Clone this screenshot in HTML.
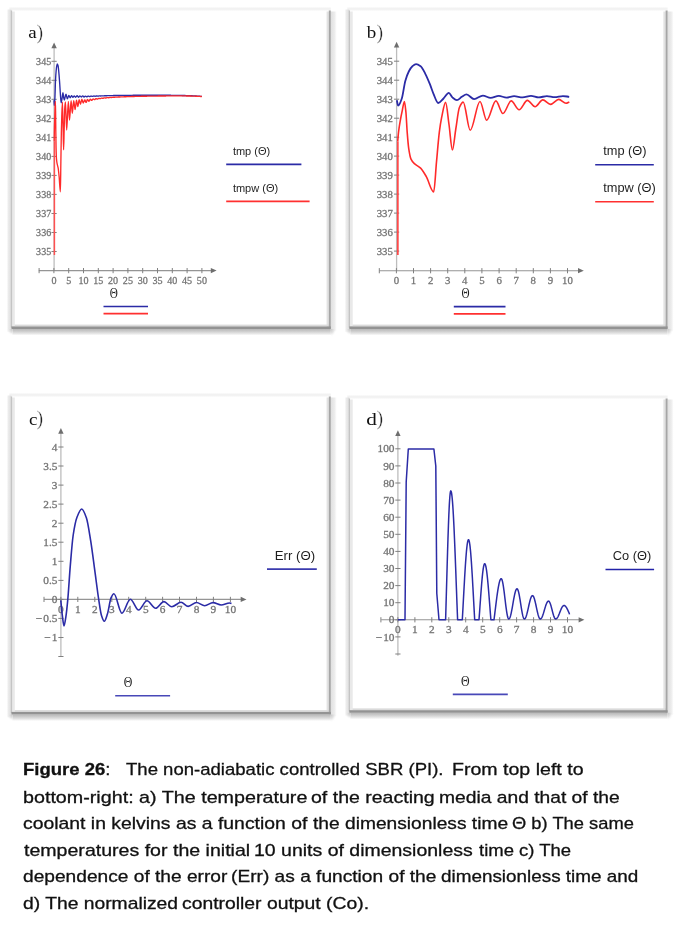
<!DOCTYPE html>
<html><head><meta charset="utf-8"><style>
html,body{margin:0;padding:0;background:#fff;width:680px;height:926px;overflow:hidden;}
svg{position:absolute;left:0;top:0;will-change:transform;}
.tl{font-family:"Liberation Serif",serif;font-size:10.5px;fill:#747474;stroke:#747474;stroke-width:0.28px;}
.pl{font-family:"Liberation Serif",serif;font-size:17px;fill:#111;}
.pp{font-size:20px;fill:#222;stroke:#fff;stroke-width:0.35px;}
.th{font-family:"Liberation Serif",serif;font-size:14px;fill:#222;}
.th2{font-family:"Liberation Sans",sans-serif;font-size:12px;fill:#222;}
.lg{font-family:"Liberation Sans",sans-serif;font-size:12px;fill:#1e1e1e;}
.cap{position:absolute;font-family:"Liberation Sans",sans-serif;font-size:17px;color:#111;white-space:pre;line-height:17px;height:17px;transform-origin:0 0;-webkit-text-stroke:0.3px #111;}
</style></head><body>
<svg width="680" height="926" viewBox="0 0 680 926">
<defs><filter id="bl1" x="-10%" y="-10%" width="120%" height="120%"><feGaussianBlur stdDeviation="0.7"/></filter><linearGradient id="oB" x1="0" x2="0" y1="0" y2="1"><stop offset="0" stop-color="#b8b8b8"/><stop offset="0.35" stop-color="#cdcdcd"/><stop offset="0.65" stop-color="#e2e2e2"/><stop offset="1" stop-color="#fff"/></linearGradient><linearGradient id="oR" x1="0" x2="1" y1="0" y2="0"><stop offset="0" stop-color="#e0e0e0"/><stop offset="0.6" stop-color="#ececec"/><stop offset="1" stop-color="#fff"/></linearGradient><linearGradient id="oL" x1="0" x2="1" y1="0" y2="0"><stop offset="0" stop-color="#fff"/><stop offset="0.3" stop-color="#ececec"/><stop offset="1" stop-color="#dedede"/></linearGradient><linearGradient id="oT" x1="0" x2="0" y1="0" y2="1"><stop offset="0" stop-color="#fff"/><stop offset="0.5" stop-color="#f2f2f2"/><stop offset="1" stop-color="#f4f4f4"/></linearGradient><radialGradient id="oCL" cx="1" cy="0" r="1"><stop offset="0" stop-color="#c4c4c4"/><stop offset="0.55" stop-color="#e6e6e6"/><stop offset="1" stop-color="#fff" stop-opacity="0"/></radialGradient><radialGradient id="oC" cx="0" cy="0" r="1"><stop offset="0" stop-color="#c8c8c8"/><stop offset="0.5" stop-color="#e4e4e4"/><stop offset="1" stop-color="#fff" stop-opacity="0"/></radialGradient></defs>
<g filter="url(#bl1)"><rect x="9.4" y="6.5" width="321.4" height="4" fill="url(#oT)"/><rect x="6.9" y="9.5" width="4.5" height="322.2" fill="url(#oL)"/><rect x="330.8" y="11.5" width="6" height="319.2" fill="url(#oR)"/><rect x="12.4" y="329.0" width="318.4" height="6.5" fill="url(#oB)"/><rect x="6.4" y="329.0" width="6" height="6.5" fill="url(#oCL)"/><rect x="330.8" y="329.0" width="6" height="8" fill="url(#oC)"/><rect x="326.6" y="11.5" width="2.2" height="316.2" fill="#e2e2e2"/><rect x="12.4" y="324.6" width="317.4" height="1.8" fill="#dadada"/><rect x="12.0" y="11.5" width="2.8" height="316.2" fill="#e9e9e9"/><rect x="10.8" y="10.5" width="1.3" height="317.2" fill="#c4c4c4"/><rect x="328.8" y="10.5" width="2" height="318.2" fill="#a6a6a6"/><rect x="11.4" y="326.4" width="319.4" height="2.6" fill="#939393"/></g>
<g filter="url(#bl1)"><rect x="347.3" y="6.5" width="320.3" height="4" fill="url(#oT)"/><rect x="344.8" y="9.5" width="4.5" height="322.2" fill="url(#oL)"/><rect x="667.6" y="11.5" width="6" height="319.2" fill="url(#oR)"/><rect x="350.3" y="329.0" width="317.3" height="6.5" fill="url(#oB)"/><rect x="344.3" y="329.0" width="6" height="6.5" fill="url(#oCL)"/><rect x="667.6" y="329.0" width="6" height="8" fill="url(#oC)"/><rect x="663.4" y="11.5" width="2.2" height="316.2" fill="#e2e2e2"/><rect x="350.3" y="324.6" width="316.3" height="1.8" fill="#dadada"/><rect x="349.9" y="11.5" width="2.8" height="316.2" fill="#e9e9e9"/><rect x="348.7" y="10.5" width="1.3" height="317.2" fill="#c4c4c4"/><rect x="665.6" y="10.5" width="2" height="318.2" fill="#a6a6a6"/><rect x="349.3" y="326.4" width="318.3" height="2.6" fill="#939393"/></g>
<g filter="url(#bl1)"><rect x="9.4" y="392.5" width="321.4" height="4" fill="url(#oT)"/><rect x="6.9" y="395.5" width="4.5" height="321.7" fill="url(#oL)"/><rect x="330.8" y="397.5" width="6" height="318.7" fill="url(#oR)"/><rect x="12.4" y="714.5" width="318.4" height="6.5" fill="url(#oB)"/><rect x="6.4" y="714.5" width="6" height="6.5" fill="url(#oCL)"/><rect x="330.8" y="714.5" width="6" height="8" fill="url(#oC)"/><rect x="326.6" y="397.5" width="2.2" height="315.7" fill="#e2e2e2"/><rect x="12.4" y="710.1" width="317.4" height="1.8" fill="#dadada"/><rect x="12.0" y="397.5" width="2.8" height="315.7" fill="#e9e9e9"/><rect x="10.8" y="396.5" width="1.3" height="316.7" fill="#c4c4c4"/><rect x="328.8" y="396.5" width="2" height="317.7" fill="#a6a6a6"/><rect x="11.4" y="711.9" width="319.4" height="2.6" fill="#939393"/></g>
<g filter="url(#bl1)"><rect x="347.3" y="394.5" width="320.3" height="4" fill="url(#oT)"/><rect x="344.8" y="397.5" width="4.5" height="318.0" fill="url(#oL)"/><rect x="667.6" y="399.5" width="6" height="315.0" fill="url(#oR)"/><rect x="350.3" y="712.8" width="317.3" height="6.5" fill="url(#oB)"/><rect x="344.3" y="712.8" width="6" height="6.5" fill="url(#oCL)"/><rect x="667.6" y="712.8" width="6" height="8" fill="url(#oC)"/><rect x="663.4" y="399.5" width="2.2" height="312.0" fill="#e2e2e2"/><rect x="350.3" y="708.4" width="316.3" height="1.8" fill="#dadada"/><rect x="349.9" y="399.5" width="2.8" height="312.0" fill="#e9e9e9"/><rect x="348.7" y="398.5" width="1.3" height="313.0" fill="#c4c4c4"/><rect x="665.6" y="398.5" width="2" height="314.0" fill="#a6a6a6"/><rect x="349.3" y="710.2" width="318.3" height="2.6" fill="#939393"/></g>
<line x1="54.1" y1="47.5" x2="54.1" y2="270.6" stroke="#bdbdbd" stroke-width="1.3"/>
<path d="M54.1,42.5 L51.4,48.3 L56.8,48.3 Z" fill="#6e6e6e"/>
<line x1="38.8" y1="270.6" x2="211.6" y2="270.6" stroke="#959595" stroke-width="1.1"/>
<path d="M216.6,270.6 L210.8,268.0 L210.8,273.2 Z" fill="#6e6e6e"/>
<line x1="39.1" y1="268.0" x2="39.1" y2="273.2" stroke="#808080" stroke-width="1"/>
<line x1="53.9" y1="268.0" x2="53.9" y2="273.2" stroke="#808080" stroke-width="1"/>
<line x1="68.7" y1="268.0" x2="68.7" y2="273.2" stroke="#808080" stroke-width="1"/>
<line x1="83.5" y1="268.0" x2="83.5" y2="273.2" stroke="#808080" stroke-width="1"/>
<line x1="98.3" y1="268.0" x2="98.3" y2="273.2" stroke="#808080" stroke-width="1"/>
<line x1="113.1" y1="268.0" x2="113.1" y2="273.2" stroke="#808080" stroke-width="1"/>
<line x1="127.9" y1="268.0" x2="127.9" y2="273.2" stroke="#808080" stroke-width="1"/>
<line x1="142.7" y1="268.0" x2="142.7" y2="273.2" stroke="#808080" stroke-width="1"/>
<line x1="157.5" y1="268.0" x2="157.5" y2="273.2" stroke="#808080" stroke-width="1"/>
<line x1="172.3" y1="268.0" x2="172.3" y2="273.2" stroke="#808080" stroke-width="1"/>
<line x1="187.1" y1="268.0" x2="187.1" y2="273.2" stroke="#808080" stroke-width="1"/>
<line x1="201.9" y1="268.0" x2="201.9" y2="273.2" stroke="#808080" stroke-width="1"/>
<line x1="51.5" y1="61.3" x2="56.7" y2="61.3" stroke="#808080" stroke-width="1"/>
<line x1="51.5" y1="80.3" x2="56.7" y2="80.3" stroke="#808080" stroke-width="1"/>
<line x1="51.5" y1="99.3" x2="56.7" y2="99.3" stroke="#808080" stroke-width="1"/>
<line x1="51.5" y1="118.4" x2="56.7" y2="118.4" stroke="#808080" stroke-width="1"/>
<line x1="51.5" y1="137.4" x2="56.7" y2="137.4" stroke="#808080" stroke-width="1"/>
<line x1="51.5" y1="156.4" x2="56.7" y2="156.4" stroke="#808080" stroke-width="1"/>
<line x1="51.5" y1="175.4" x2="56.7" y2="175.4" stroke="#808080" stroke-width="1"/>
<line x1="51.5" y1="194.4" x2="56.7" y2="194.4" stroke="#808080" stroke-width="1"/>
<line x1="51.5" y1="213.5" x2="56.7" y2="213.5" stroke="#808080" stroke-width="1"/>
<line x1="51.5" y1="232.5" x2="56.7" y2="232.5" stroke="#808080" stroke-width="1"/>
<line x1="51.5" y1="251.5" x2="56.7" y2="251.5" stroke="#808080" stroke-width="1"/>
<text transform="translate(51.2,64.9) scale(0.960,1)" class="tl" text-anchor="end">345</text>
<text transform="translate(51.2,83.9) scale(0.960,1)" class="tl" text-anchor="end">344</text>
<text transform="translate(51.2,102.9) scale(0.960,1)" class="tl" text-anchor="end">343</text>
<text transform="translate(51.2,122.0) scale(0.960,1)" class="tl" text-anchor="end">342</text>
<text transform="translate(51.2,141.0) scale(0.960,1)" class="tl" text-anchor="end">341</text>
<text transform="translate(51.2,160.0) scale(0.960,1)" class="tl" text-anchor="end">340</text>
<text transform="translate(51.2,179.0) scale(0.960,1)" class="tl" text-anchor="end">339</text>
<text transform="translate(51.2,198.0) scale(0.960,1)" class="tl" text-anchor="end">338</text>
<text transform="translate(51.2,217.1) scale(0.960,1)" class="tl" text-anchor="end">337</text>
<text transform="translate(51.2,236.1) scale(0.960,1)" class="tl" text-anchor="end">336</text>
<text transform="translate(51.2,255.1) scale(0.960,1)" class="tl" text-anchor="end">335</text>
<text transform="translate(53.9,284.0) scale(0.960,1)" class="tl" text-anchor="middle">0</text>
<text transform="translate(68.7,284.0) scale(0.960,1)" class="tl" text-anchor="middle">5</text>
<text transform="translate(83.5,284.0) scale(0.960,1)" class="tl" text-anchor="middle">10</text>
<text transform="translate(98.3,284.0) scale(0.960,1)" class="tl" text-anchor="middle">15</text>
<text transform="translate(113.1,284.0) scale(0.960,1)" class="tl" text-anchor="middle">20</text>
<text transform="translate(127.9,284.0) scale(0.960,1)" class="tl" text-anchor="middle">25</text>
<text transform="translate(142.7,284.0) scale(0.960,1)" class="tl" text-anchor="middle">30</text>
<text transform="translate(157.5,284.0) scale(0.960,1)" class="tl" text-anchor="middle">35</text>
<text transform="translate(172.3,284.0) scale(0.960,1)" class="tl" text-anchor="middle">40</text>
<text transform="translate(187.1,284.0) scale(0.960,1)" class="tl" text-anchor="middle">45</text>
<text transform="translate(201.9,284.0) scale(0.960,1)" class="tl" text-anchor="middle">50</text>
<text transform="translate(28.3,38) scale(1.12,1)" class="pl">a</text><text x="36.4" y="38.8" class="pl pp">)</text>
<path d="M54.03,100.10 C54.11,101.87 54.20,105.40 54.28,105.40 C54.48,105.40 54.69,101.71 54.89,98.30 C55.10,94.99 55.30,84.78 55.50,80.70 C55.70,76.62 55.90,73.52 56.10,71.30 C56.31,69.01 56.51,66.95 56.72,66.00 C56.93,65.02 57.14,64.00 57.36,64.00 C57.61,64.00 57.87,64.96 58.13,66.00 C58.40,67.09 58.67,70.65 58.94,73.60 C59.21,76.55 59.48,80.34 59.75,84.20 C59.95,87.07 60.15,90.94 60.35,93.60 C60.62,97.18 60.89,102.80 61.16,102.80 C61.46,102.80 61.77,99.96 62.07,98.30 C62.38,96.64 62.68,92.70 62.98,92.70 C63.19,92.70 63.40,96.19 63.60,97.20 C63.86,98.46 64.12,100.00 64.38,100.00 C64.66,100.00 64.94,97.56 65.22,96.60 C65.49,95.68 65.76,94.20 66.03,94.20 C66.47,94.20 66.90,98.90 67.34,98.90 C67.84,98.90 68.35,95.40 68.85,95.40 C69.29,95.40 69.74,97.70 70.18,97.70 C70.65,97.70 71.12,95.70 71.59,95.70 C72.03,95.70 72.47,97.40 72.91,97.40 C73.35,97.40 73.78,96.00 74.22,96.00 C74.71,96.00 75.20,97.20 75.68,97.20 C76.17,97.20 76.65,95.60 77.13,95.60 C77.57,95.60 78.01,97.20 78.45,97.20 C78.92,97.20 79.40,95.90 79.87,95.90 C80.31,95.90 80.75,97.00 81.19,97.00 C81.67,97.00 82.14,95.90 82.62,95.90 C82.98,95.90 83.34,96.25 83.70,96.60 C83.81,96.70 83.91,97.06 84.01,97.06 C84.11,97.06 84.21,97.00 84.31,96.95 C84.41,96.89 84.51,96.78 84.61,96.69 C84.71,96.59 84.80,96.47 84.90,96.39 C85.00,96.31 85.10,96.21 85.20,96.19 C85.30,96.16 85.40,96.14 85.49,96.14 C85.59,96.14 85.69,96.20 85.79,96.25 C85.89,96.30 85.99,96.39 86.09,96.46 C86.19,96.53 86.28,96.62 86.38,96.67 C86.48,96.72 86.58,96.79 86.68,96.79 C86.78,96.79 86.88,96.79 86.97,96.78 C87.07,96.77 87.17,96.69 87.27,96.63 C87.37,96.58 87.47,96.49 87.57,96.42 C87.67,96.36 87.76,96.28 87.86,96.23 C87.96,96.19 88.06,96.14 88.16,96.14 C88.26,96.14 88.36,96.14 88.45,96.16 C88.55,96.17 88.65,96.23 88.75,96.27 C88.85,96.32 88.95,96.38 89.05,96.43 C89.15,96.47 89.24,96.53 89.34,96.55 C89.44,96.57 89.54,96.58 89.64,96.58 C89.74,96.58 89.84,96.55 89.93,96.52 C90.03,96.49 90.13,96.43 90.23,96.38 C90.33,96.34 90.43,96.28 90.53,96.23 C90.63,96.19 90.72,96.14 90.82,96.12 C90.92,96.11 91.02,96.09 91.12,96.09 C91.22,96.09 91.32,96.12 91.41,96.14 C91.51,96.16 91.61,96.21 91.71,96.24 C91.81,96.27 91.91,96.32 92.01,96.34 C92.11,96.36 92.20,96.39 92.30,96.39 C92.40,96.39 92.50,96.39 92.60,96.38 C92.70,96.37 92.80,96.33 92.89,96.30 C92.99,96.27 93.09,96.23 93.19,96.19 C93.29,96.16 93.39,96.12 93.49,96.09 C93.59,96.07 93.68,96.04 93.78,96.04 C93.88,96.04 93.98,96.04 94.08,96.04 C94.18,96.05 94.28,96.08 94.37,96.10 C94.47,96.12 94.57,96.15 94.67,96.17 C94.77,96.19 94.87,96.21 94.97,96.22 C95.07,96.23 95.16,96.23 95.26,96.23 C95.36,96.23 95.46,96.21 95.56,96.20 C95.66,96.18 95.76,96.15 95.85,96.12 C95.95,96.10 96.05,96.07 96.15,96.04 C96.25,96.02 96.35,95.99 96.45,95.98 C96.55,95.97 96.64,95.96 96.74,95.96 C96.84,95.96 96.94,95.97 97.04,95.98 C97.14,95.99 97.24,96.01 97.33,96.03 C97.43,96.04 97.53,96.06 97.63,96.07 C97.73,96.08 97.83,96.09 97.93,96.09 C98.03,96.09 98.12,96.09 98.22,96.08 C98.32,96.08 98.42,96.06 98.52,96.04 C98.62,96.02 98.72,96.00 98.81,95.98 C98.91,95.96 99.01,95.94 99.11,95.93 C99.21,95.91 99.31,95.90 99.41,95.90 C99.51,95.90 99.60,95.89 99.70,95.89 C99.80,95.89 99.90,95.91 100.00,95.92 C100.10,95.92 100.20,95.94 100.29,95.95 C100.39,95.95 100.49,95.97 100.59,95.97 C100.69,95.97 100.79,95.97 100.89,95.97 C100.99,95.97 101.08,95.96 101.18,95.95 C101.28,95.94 101.38,95.92 101.48,95.91 C101.58,95.89 101.68,95.87 101.77,95.86 C101.87,95.85 101.97,95.83 102.07,95.83 C102.17,95.82 102.27,95.81 102.37,95.81 C102.47,95.81 102.56,95.81 102.66,95.82 C102.76,95.82 102.86,95.83 102.96,95.83 C103.06,95.84 103.16,95.85 103.25,95.85 C103.35,95.85 103.45,95.86 103.55,95.86 C103.65,95.86 103.75,95.85 103.85,95.84 C103.95,95.84 104.04,95.83 104.14,95.82 C104.24,95.81 104.34,95.80 104.44,95.78 C104.54,95.77 104.64,95.76 104.73,95.75 C104.83,95.74 104.93,95.74 105.03,95.73 C105.13,95.73 105.23,95.73 105.33,95.73 C105.43,95.73 105.52,95.73 105.62,95.73 C105.72,95.73 105.82,95.74 105.92,95.74 C106.02,95.75 106.12,95.75 106.21,95.75 C106.31,95.75 106.41,95.75 106.51,95.75 C106.61,95.74 106.71,95.74 106.81,95.73 C106.91,95.72 107.00,95.71 107.10,95.71 C107.20,95.70 107.30,95.69 107.40,95.68 C107.50,95.67 107.60,95.66 107.69,95.66 C107.79,95.65 107.89,95.65 107.99,95.65 C108.09,95.65 108.19,95.65 108.29,95.65 C108.39,95.65 108.48,95.65 108.58,95.65 C108.68,95.65 108.78,95.66 108.88,95.66 C108.98,95.66 109.08,95.66 109.17,95.66 C109.27,95.66 109.37,95.65 109.47,95.65 C109.57,95.65 109.67,95.64 109.77,95.63 C109.87,95.63 109.96,95.62 110.06,95.61 C110.16,95.61 110.26,95.60 110.36,95.60 C110.46,95.59 110.56,95.59 110.65,95.58 C110.75,95.58 110.85,95.58 110.95,95.58 C111.05,95.58 111.15,95.58 111.25,95.58 C111.35,95.58 111.44,95.58 111.54,95.58 C111.64,95.59 111.74,95.59 111.84,95.59 C111.94,95.59 112.04,95.58 112.13,95.58 C112.23,95.58 112.33,95.58 112.43,95.57 C112.53,95.57 112.63,95.57 112.73,95.56 C112.83,95.56 112.92,95.55 113.02,95.55 C113.12,95.54 113.22,95.54 113.32,95.54 C113.42,95.54 113.52,95.53 113.61,95.53 C113.71,95.53 113.81,95.53 113.91,95.53 C114.01,95.53 114.11,95.53 114.21,95.53 C114.31,95.53 114.40,95.53 114.50,95.53 C114.60,95.53 114.70,95.53 114.80,95.53 C114.90,95.53 115.00,95.53 115.09,95.53 C115.19,95.53 115.29,95.52 115.39,95.52 C115.49,95.52 115.59,95.51 115.69,95.51 C115.79,95.51 115.88,95.50 115.98,95.50 C116.08,95.50 116.18,95.49 116.28,95.49 C116.38,95.49 116.48,95.49 116.57,95.49 C116.67,95.49 116.77,95.49 116.87,95.49 C116.97,95.49 117.07,95.49 117.17,95.49 C117.27,95.49 117.36,95.49 117.46,95.49 C117.56,95.49 117.66,95.49 117.76,95.49 C117.86,95.48 117.96,95.48 118.05,95.48 C118.15,95.48 118.25,95.47 118.35,95.47 C118.45,95.47 118.55,95.47 118.65,95.46 C118.75,95.46 118.84,95.46 118.94,95.46 C119.04,95.45 119.14,95.45 119.24,95.45 C119.34,95.45 119.44,95.45 119.53,95.45 C119.63,95.45 119.73,95.45 119.83,95.45 C119.93,95.45 120.03,95.45 120.13,95.45 C120.23,95.45 120.32,95.44 120.42,95.44 C120.52,95.44 120.62,95.44 120.72,95.44 C120.82,95.44 120.92,95.44 121.01,95.43 C121.11,95.43 121.21,95.43 121.31,95.43 C121.41,95.42 121.51,95.42 121.61,95.42 C121.71,95.42 121.80,95.42 121.90,95.41 C122.00,95.41 122.10,95.41 122.20,95.41 C122.30,95.41 122.40,95.41 122.49,95.41 C122.59,95.41 122.69,95.41 122.79,95.41 C122.89,95.41 122.99,95.40 123.09,95.40 C123.19,95.40 123.28,95.40 123.38,95.40 C123.48,95.40 123.58,95.40 123.68,95.40 C123.78,95.39 123.88,95.39 123.97,95.39 C124.07,95.39 124.17,95.39 124.27,95.38 C124.37,95.38 124.47,95.38 124.57,95.38 C124.67,95.38 124.76,95.38 124.86,95.38 C124.96,95.37 125.06,95.37 125.16,95.37 C125.26,95.37 125.36,95.37 125.45,95.37 C125.55,95.37 125.65,95.37 125.75,95.37 C125.85,95.37 125.95,95.37 126.05,95.37 C126.15,95.36 126.24,95.36 126.34,95.36 C126.44,95.36 126.54,95.36 126.64,95.36 C126.74,95.36 126.84,95.35 126.93,95.35 C127.03,95.35 127.13,95.35 127.23,95.35 C127.33,95.35 127.43,95.34 127.53,95.34 C127.63,95.34 127.72,95.34 127.82,95.34 C127.92,95.34 128.02,95.34 128.12,95.34 C128.22,95.34 128.32,95.34 128.41,95.34 C128.51,95.34 128.61,95.33 128.71,95.33 C128.81,95.33 128.91,95.33 129.01,95.33 C129.11,95.33 129.20,95.33 129.30,95.33 C129.40,95.33 129.50,95.33 129.60,95.32 C129.70,95.32 129.80,95.32 129.89,95.32 C129.99,95.32 130.09,95.32 130.19,95.32 C130.29,95.31 130.39,95.31 130.49,95.31 C130.59,95.31 130.68,95.31 130.78,95.31 C130.88,95.31 130.98,95.31 131.08,95.31 C131.18,95.31 131.28,95.31 131.37,95.31 C131.47,95.31 131.57,95.31 131.67,95.30 C131.77,95.30 131.87,95.30 131.97,95.30 C132.07,95.30 132.16,95.30 132.26,95.30 C132.36,95.30 132.46,95.30 132.56,95.30 C132.66,95.29 132.76,95.29 132.85,95.29 C132.95,95.29 133.05,95.29 133.15,95.29 C133.25,95.29 133.35,95.29 133.45,95.29 C133.55,95.29 133.64,95.29 133.74,95.29 C133.84,95.29 133.94,95.28 134.04,95.28 C134.14,95.28 134.24,95.28 134.33,95.28 C134.43,95.28 134.53,95.28 134.63,95.28 C134.73,95.28 134.83,95.28 134.93,95.28 C135.03,95.28 135.12,95.28 135.22,95.28 C135.32,95.28 135.42,95.27 135.52,95.27 C135.62,95.27 135.72,95.27 135.81,95.27 C135.91,95.27 136.01,95.27 136.11,95.27 C136.21,95.27 136.31,95.27 136.41,95.27 C136.51,95.27 136.60,95.27 136.70,95.27 C136.80,95.27 136.90,95.27 137.00,95.27 C137.10,95.27 137.20,95.26 137.29,95.26 C137.39,95.26 137.49,95.26 137.59,95.26 C137.69,95.26 137.79,95.26 137.89,95.26 C137.99,95.26 138.08,95.26 138.18,95.26 C138.28,95.26 138.38,95.26 138.48,95.26 C138.58,95.26 138.68,95.26 138.77,95.26 C138.87,95.26 138.97,95.26 139.07,95.26 C139.17,95.26 139.27,95.26 139.37,95.26 C139.47,95.26 139.56,95.25 139.66,95.25 C139.76,95.25 139.86,95.25 139.96,95.25 C140.06,95.25 140.16,95.25 140.25,95.25 C140.35,95.25 140.45,95.25 140.55,95.25 C140.65,95.25 140.75,95.25 140.85,95.25 C140.95,95.25 141.04,95.25 141.14,95.25 C141.24,95.25 141.34,95.25 141.44,95.25 C141.54,95.25 141.64,95.25 141.73,95.25 C141.83,95.25 141.93,95.25 142.03,95.25 C142.13,95.25 142.23,95.25 142.33,95.25 C142.43,95.25 142.52,95.25 142.62,95.25 C142.72,95.25 142.82,95.25 142.92,95.25 C143.02,95.25 143.12,95.25 143.21,95.25 C143.31,95.25 143.41,95.25 143.51,95.25 C143.61,95.25 143.71,95.25 143.81,95.25 C143.91,95.25 144.00,95.25 144.10,95.25 C144.20,95.25 144.30,95.25 144.40,95.25 C144.50,95.25 144.60,95.25 144.69,95.25 C144.79,95.25 144.89,95.25 144.99,95.25 C145.09,95.25 145.19,95.25 145.29,95.25 C145.39,95.25 145.48,95.25 145.58,95.25 C145.68,95.25 145.78,95.25 145.88,95.25 C145.98,95.25 146.08,95.25 146.17,95.25 C146.27,95.25 146.37,95.25 146.47,95.25 C146.57,95.25 146.67,95.25 146.77,95.25 C146.87,95.25 146.96,95.25 147.06,95.25 C147.16,95.25 147.26,95.25 147.36,95.25 C147.46,95.25 147.56,95.25 147.65,95.25 C147.75,95.25 147.85,95.25 147.95,95.25 C148.05,95.25 148.15,95.25 148.25,95.25 C148.35,95.25 148.44,95.25 148.54,95.25 C148.64,95.25 148.74,95.25 148.84,95.25 C148.94,95.25 149.04,95.25 149.13,95.25 C149.23,95.25 149.33,95.25 149.43,95.25 C149.53,95.25 149.63,95.25 149.73,95.25 C149.83,95.25 149.92,95.25 150.02,95.25 C150.12,95.25 150.22,95.25 150.32,95.25 C150.42,95.25 150.52,95.25 150.61,95.25 C150.71,95.25 150.81,95.25 150.91,95.25 C151.01,95.25 151.11,95.25 151.21,95.25 C151.31,95.25 151.40,95.25 151.50,95.25 C151.60,95.25 151.70,95.25 151.80,95.25 C151.90,95.25 152.00,95.25 152.09,95.25 C152.19,95.26 152.29,95.26 152.39,95.26 C152.49,95.26 152.59,95.26 152.69,95.26 C152.79,95.26 152.88,95.26 152.98,95.26 C153.08,95.26 153.18,95.26 153.28,95.26 C153.38,95.26 153.48,95.26 153.57,95.26 C153.67,95.26 153.77,95.26 153.87,95.26 C153.97,95.26 154.07,95.26 154.17,95.26 C154.27,95.26 154.36,95.26 154.46,95.26 C154.56,95.26 154.66,95.26 154.76,95.26 C154.86,95.26 154.96,95.26 155.05,95.26 C155.15,95.26 155.25,95.26 155.35,95.26 C155.45,95.26 155.55,95.26 155.65,95.26 C155.75,95.26 155.84,95.26 155.94,95.26 C156.04,95.26 156.14,95.26 156.24,95.26 C156.34,95.26 156.44,95.26 156.53,95.26 C156.63,95.26 156.73,95.26 156.83,95.26 C156.93,95.26 157.03,95.26 157.13,95.26 C157.23,95.26 157.32,95.26 157.42,95.26 C157.52,95.26 157.62,95.26 157.72,95.26 C157.82,95.26 157.92,95.26 158.01,95.26 C158.11,95.26 158.21,95.26 158.31,95.26 C158.41,95.26 158.51,95.26 158.61,95.26 C158.71,95.26 158.80,95.26 158.90,95.26 C159.00,95.26 159.10,95.27 159.20,95.27 C159.30,95.27 159.40,95.27 159.49,95.27 C159.59,95.27 159.69,95.27 159.79,95.27 C159.89,95.27 159.99,95.27 160.09,95.27 C160.19,95.27 160.28,95.27 160.38,95.27 C160.48,95.27 160.58,95.27 160.68,95.27 C160.78,95.27 160.88,95.27 160.97,95.27 C161.07,95.27 161.17,95.27 161.27,95.27 C161.37,95.27 161.47,95.27 161.57,95.27 C161.67,95.27 161.76,95.27 161.86,95.27 C161.96,95.27 162.06,95.27 162.16,95.27 C162.26,95.27 162.36,95.27 162.45,95.27 C162.55,95.27 162.65,95.27 162.75,95.27 C162.85,95.27 162.95,95.27 163.05,95.27 C163.15,95.27 163.24,95.27 163.34,95.27 C163.44,95.27 163.54,95.27 163.64,95.27 C163.74,95.27 163.84,95.28 163.93,95.28 C164.03,95.28 164.13,95.28 164.23,95.28 C164.33,95.28 164.43,95.28 164.53,95.28 C164.63,95.28 164.72,95.28 164.82,95.28 C164.92,95.28 165.02,95.28 165.12,95.28 C165.22,95.28 165.32,95.28 165.41,95.28 C165.51,95.28 165.61,95.28 165.71,95.28 C165.81,95.28 165.91,95.28 166.01,95.28 C166.11,95.28 166.20,95.28 166.30,95.28 C166.40,95.28 166.50,95.28 166.60,95.28 C166.70,95.28 166.80,95.28 166.89,95.28 C166.99,95.28 167.09,95.28 167.19,95.28 C167.29,95.28 167.39,95.28 167.49,95.28 C167.59,95.29 167.68,95.29 167.78,95.29 C167.88,95.29 167.98,95.29 168.08,95.29 C168.18,95.29 168.28,95.29 168.37,95.29 C168.47,95.29 168.57,95.29 168.67,95.29 C168.77,95.29 168.87,95.29 168.97,95.29 C169.07,95.29 169.16,95.29 169.26,95.29 C169.36,95.29 169.46,95.29 169.56,95.29 C169.66,95.29 169.76,95.29 169.85,95.29 C169.95,95.29 170.05,95.29 170.15,95.29 C170.25,95.29 170.35,95.29 170.45,95.29 C170.55,95.29 170.64,95.29 170.74,95.29 C170.84,95.29 170.94,95.30 171.04,95.30 C171.14,95.30 171.24,95.30 171.33,95.30 C171.43,95.30 171.53,95.30 171.63,95.30 C171.73,95.30 171.83,95.30 171.93,95.30 C172.03,95.30 172.12,95.30 172.22,95.30 C172.32,95.30 172.42,95.30 172.52,95.30 C172.62,95.30 172.72,95.30 172.81,95.30 C172.91,95.30 173.01,95.30 173.11,95.30 C173.21,95.30 173.31,95.30 173.41,95.30 C173.51,95.31 173.60,95.31 173.70,95.31 C173.80,95.31 173.90,95.31 174.00,95.31 C174.10,95.31 174.20,95.31 174.29,95.31 C174.39,95.31 174.49,95.31 174.59,95.31 C174.69,95.32 174.79,95.32 174.89,95.32 C174.99,95.32 175.08,95.32 175.18,95.32 C175.28,95.32 175.38,95.32 175.48,95.32 C175.58,95.33 175.68,95.33 175.77,95.33 C175.87,95.33 175.97,95.33 176.07,95.33 C176.17,95.33 176.27,95.33 176.37,95.34 C176.47,95.34 176.56,95.34 176.66,95.34 C176.76,95.34 176.86,95.34 176.96,95.34 C177.06,95.35 177.16,95.35 177.25,95.35 C177.35,95.35 177.45,95.35 177.55,95.35 C177.65,95.36 177.75,95.36 177.85,95.36 C177.95,95.36 178.04,95.36 178.14,95.37 C178.24,95.37 178.34,95.37 178.44,95.37 C178.54,95.37 178.64,95.37 178.73,95.38 C178.83,95.38 178.93,95.38 179.03,95.38 C179.13,95.38 179.23,95.39 179.33,95.39 C179.43,95.39 179.52,95.39 179.62,95.39 C179.72,95.40 179.82,95.40 179.92,95.40 C180.02,95.40 180.12,95.41 180.21,95.41 C180.31,95.41 180.41,95.41 180.51,95.41 C180.61,95.42 180.71,95.42 180.81,95.42 C180.91,95.42 181.00,95.43 181.10,95.43 C181.20,95.43 181.30,95.43 181.40,95.44 C181.50,95.44 181.60,95.44 181.69,95.44 C181.79,95.45 181.89,95.45 181.99,95.45 C182.09,95.45 182.19,95.46 182.29,95.46 C182.39,95.46 182.48,95.46 182.58,95.47 C182.68,95.47 182.78,95.47 182.88,95.47 C182.98,95.48 183.08,95.48 183.17,95.48 C183.27,95.48 183.37,95.49 183.47,95.49 C183.57,95.49 183.67,95.50 183.77,95.50 C183.87,95.50 183.96,95.50 184.06,95.51 C184.16,95.51 184.26,95.51 184.36,95.52 C184.46,95.52 184.56,95.52 184.65,95.52 C184.75,95.53 184.85,95.53 184.95,95.53 C185.05,95.54 185.15,95.54 185.25,95.54 C185.35,95.54 185.44,95.55 185.54,95.55 C185.64,95.55 185.74,95.56 185.84,95.56 C185.94,95.56 186.04,95.57 186.13,95.57 C186.23,95.57 186.33,95.58 186.43,95.58 C186.53,95.58 186.63,95.58 186.73,95.59 C186.83,95.59 186.92,95.59 187.02,95.60 C187.12,95.60 187.22,95.60 187.32,95.61 C187.42,95.61 187.52,95.61 187.61,95.62 C187.71,95.62 187.81,95.62 187.91,95.63 C188.01,95.63 188.11,95.63 188.21,95.64 C188.31,95.64 188.40,95.64 188.50,95.64 C188.60,95.65 188.70,95.65 188.80,95.65 C188.90,95.66 189.00,95.66 189.09,95.66 C189.19,95.67 189.29,95.67 189.39,95.67 C189.49,95.68 189.59,95.68 189.69,95.68 C189.79,95.69 189.88,95.69 189.98,95.69 C190.08,95.70 190.18,95.70 190.28,95.70 C190.38,95.71 190.48,95.71 190.57,95.71 C190.67,95.72 190.77,95.72 190.87,95.73 C190.97,95.73 191.07,95.73 191.17,95.74 C191.27,95.74 191.36,95.75 191.46,95.75 C191.56,95.76 191.66,95.76 191.76,95.76 C191.86,95.77 191.96,95.77 192.05,95.78 C192.15,95.78 192.25,95.79 192.35,95.79 C192.45,95.80 192.55,95.80 192.65,95.81 C192.75,95.81 192.84,95.82 192.94,95.82 C193.04,95.83 193.14,95.83 193.24,95.84 C193.34,95.84 193.44,95.85 193.53,95.86 C193.63,95.86 193.73,95.87 193.83,95.87 C193.93,95.88 194.03,95.88 194.13,95.89 C194.23,95.90 194.32,95.90 194.42,95.91 C194.52,95.91 194.62,95.92 194.72,95.93 C194.82,95.93 194.92,95.94 195.01,95.94 C195.11,95.95 195.21,95.96 195.31,95.96 C195.41,95.97 195.51,95.98 195.61,95.98 C195.71,95.99 195.80,95.99 195.90,96.00 C196.00,96.01 196.10,96.01 196.20,96.02 C196.30,96.03 196.40,96.03 196.49,96.04 C196.59,96.05 196.69,96.05 196.79,96.06 C196.89,96.07 196.99,96.07 197.09,96.08 C197.19,96.09 197.28,96.09 197.38,96.10 C197.48,96.11 197.58,96.11 197.68,96.12 C197.78,96.13 197.88,96.13 197.97,96.14 C198.07,96.15 198.17,96.15 198.27,96.16 C198.37,96.17 198.47,96.17 198.57,96.18 C198.67,96.19 198.76,96.19 198.86,96.20 C198.96,96.21 199.06,96.21 199.16,96.22 C199.26,96.23 199.36,96.23 199.45,96.24 C199.55,96.25 199.65,96.25 199.75,96.26 C199.85,96.26 199.95,96.27 200.05,96.28 C200.15,96.28 200.24,96.29 200.34,96.30 C200.44,96.30 200.54,96.31 200.64,96.32 C200.74,96.32 200.84,96.33 200.93,96.33 C201.03,96.34 201.13,96.35 201.23,96.35 C201.33,96.36 201.43,96.37 201.53,96.37 C201.63,96.38 201.72,96.38 201.82,96.39" fill="none" stroke="#2b2ba6" stroke-width="1.35" stroke-linejoin="round"/>
<line x1="54.4" y1="255" x2="54.4" y2="141.3" stroke="#ff5050" stroke-width="1.5"/>
<path d="M54.19,141.30 C54.24,138.27 54.28,134.51 54.33,132.20 C54.42,127.29 54.52,124.18 54.62,120.90 C54.73,117.04 54.85,113.80 54.96,110.70 C55.09,107.29 55.22,101.30 55.34,101.30 C55.43,101.30 55.51,106.91 55.60,111.80 C55.68,116.03 55.75,126.69 55.82,132.20 C55.91,138.56 56.00,144.76 56.08,148.10 C56.21,153.23 56.35,157.26 56.48,158.90 C56.67,161.33 56.87,162.31 57.06,163.40 C57.42,165.39 57.77,165.87 58.13,167.90 C58.46,169.76 58.78,173.13 59.11,176.40 C59.54,180.64 59.96,191.70 60.38,191.70 C60.55,191.70 60.71,171.62 60.87,161.70 C61.03,151.78 61.19,139.57 61.35,132.20 C61.48,126.15 61.61,121.25 61.74,117.50 C61.97,110.97 62.20,102.20 62.43,102.20 C62.63,102.20 62.82,116.41 63.02,124.30 C63.21,132.19 63.41,149.80 63.60,149.80 C63.80,149.80 63.99,135.68 64.19,128.80 C64.39,121.51 64.60,110.07 64.81,107.30 C65.03,104.38 65.24,101.90 65.46,101.90 C65.86,101.90 66.26,130.10 66.67,130.10 C67.23,130.10 67.79,101.30 68.35,101.30 C68.74,101.30 69.12,120.10 69.51,120.10 C70.03,120.10 70.56,100.70 71.09,100.70 C71.49,100.70 71.89,113.30 72.29,113.30 C72.77,113.30 73.25,100.70 73.72,100.70 C74.18,100.70 74.63,109.50 75.08,109.50 C75.56,109.50 76.03,100.20 76.51,100.20 C76.95,100.20 77.39,106.60 77.83,106.60 C78.28,106.60 78.72,99.70 79.16,99.70 C79.60,99.70 80.04,104.20 80.49,104.20 C80.96,104.20 81.44,99.20 81.91,99.20 C82.33,99.20 82.74,103.10 83.15,103.10 C83.34,103.10 83.53,101.95 83.72,101.80 C83.82,101.72 83.92,101.74 84.01,101.65 C84.11,101.56 84.21,100.77 84.31,100.48 C84.41,100.20 84.51,99.82 84.61,99.82 C84.71,99.82 84.80,99.84 84.90,99.86 C85.00,99.89 85.10,100.25 85.20,100.50 C85.30,100.75 85.40,101.13 85.49,101.40 C85.59,101.67 85.69,102.01 85.79,102.14 C85.89,102.27 85.99,102.40 86.09,102.40 C86.19,102.40 86.28,102.22 86.38,102.07 C86.48,101.91 86.58,101.57 86.68,101.29 C86.78,101.01 86.88,100.65 86.97,100.39 C87.07,100.13 87.17,99.82 87.27,99.70 C87.37,99.59 87.47,99.47 87.57,99.47 C87.67,99.47 87.76,99.60 87.86,99.72 C87.96,99.83 88.06,100.09 88.16,100.29 C88.26,100.48 88.36,100.74 88.45,100.89 C88.55,101.04 88.65,101.25 88.75,101.25 C88.85,101.25 88.95,101.23 89.05,101.21 C89.15,101.18 89.24,100.96 89.34,100.79 C89.44,100.62 89.54,100.36 89.64,100.16 C89.74,99.95 89.84,99.71 89.93,99.56 C90.03,99.41 90.13,99.21 90.23,99.21 C90.33,99.21 90.43,99.21 90.53,99.22 C90.63,99.22 90.72,99.40 90.82,99.51 C90.92,99.63 91.02,99.81 91.12,99.94 C91.22,100.07 91.32,100.24 91.41,100.29 C91.51,100.35 91.61,100.40 91.71,100.40 C91.81,100.40 91.91,100.31 92.01,100.22 C92.11,100.14 92.20,99.97 92.30,99.82 C92.40,99.68 92.50,99.49 92.60,99.36 C92.70,99.23 92.80,99.07 92.89,99.01 C92.99,98.94 93.09,98.88 93.19,98.88 C93.29,98.88 93.39,98.93 93.49,98.98 C93.59,99.03 93.68,99.16 93.78,99.25 C93.88,99.34 93.98,99.46 94.08,99.53 C94.18,99.60 94.28,99.69 94.37,99.69 C94.47,99.69 94.57,99.68 94.67,99.66 C94.77,99.64 94.87,99.53 94.97,99.44 C95.07,99.35 95.16,99.22 95.26,99.11 C95.36,99.01 95.46,98.88 95.56,98.80 C95.66,98.73 95.76,98.63 95.85,98.62 C95.95,98.61 96.05,98.61 96.15,98.61 C96.25,98.61 96.35,98.69 96.45,98.74 C96.55,98.80 96.64,98.88 96.74,98.94 C96.84,99.00 96.94,99.08 97.04,99.10 C97.14,99.12 97.24,99.14 97.33,99.14 C97.43,99.14 97.53,99.09 97.63,99.04 C97.73,99.00 97.83,98.91 97.93,98.83 C98.03,98.76 98.12,98.66 98.22,98.59 C98.32,98.52 98.42,98.44 98.52,98.41 C98.62,98.37 98.72,98.33 98.81,98.33 C98.91,98.33 99.01,98.35 99.11,98.37 C99.21,98.39 99.31,98.45 99.41,98.49 C99.51,98.53 99.60,98.59 99.70,98.62 C99.80,98.65 99.90,98.69 100.00,98.69 C100.10,98.69 100.20,98.68 100.29,98.66 C100.39,98.64 100.49,98.59 100.59,98.54 C100.69,98.49 100.79,98.42 100.89,98.37 C100.99,98.31 101.08,98.24 101.18,98.20 C101.28,98.16 101.38,98.11 101.48,98.10 C101.58,98.09 101.68,98.08 101.77,98.08 C101.87,98.08 101.97,98.11 102.07,98.14 C102.17,98.16 102.27,98.20 102.37,98.22 C102.47,98.25 102.56,98.29 102.66,98.29 C102.76,98.30 102.86,98.30 102.96,98.30 C103.06,98.30 103.16,98.27 103.25,98.24 C103.35,98.21 103.45,98.17 103.55,98.13 C103.65,98.09 103.75,98.04 103.85,98.00 C103.95,97.96 104.04,97.92 104.14,97.89 C104.24,97.87 104.34,97.84 104.44,97.84 C104.54,97.84 104.64,97.85 104.73,97.86 C104.83,97.86 104.93,97.89 105.03,97.90 C105.13,97.92 105.23,97.95 105.33,97.96 C105.43,97.97 105.52,97.98 105.62,97.98 C105.72,97.98 105.82,97.97 105.92,97.96 C106.02,97.95 106.12,97.92 106.21,97.89 C106.31,97.86 106.41,97.82 106.51,97.79 C106.61,97.76 106.71,97.73 106.81,97.70 C106.91,97.68 107.00,97.65 107.10,97.64 C107.20,97.63 107.30,97.63 107.40,97.63 C107.50,97.63 107.60,97.64 107.69,97.64 C107.79,97.65 107.89,97.67 107.99,97.68 C108.09,97.69 108.19,97.70 108.29,97.70 C108.39,97.70 108.48,97.70 108.58,97.70 C108.68,97.70 108.78,97.68 108.88,97.66 C108.98,97.65 109.08,97.62 109.17,97.60 C109.27,97.58 109.37,97.55 109.47,97.53 C109.57,97.51 109.67,97.48 109.77,97.47 C109.87,97.46 109.96,97.44 110.06,97.44 C110.16,97.44 110.26,97.44 110.36,97.44 C110.46,97.44 110.56,97.45 110.65,97.45 C110.75,97.46 110.85,97.47 110.95,97.47 C111.05,97.48 111.15,97.48 111.25,97.48 C111.35,97.48 111.44,97.47 111.54,97.46 C111.64,97.45 111.74,97.44 111.84,97.42 C111.94,97.41 112.04,97.39 112.13,97.37 C112.23,97.35 112.33,97.33 112.43,97.32 C112.53,97.31 112.63,97.29 112.73,97.29 C112.83,97.28 112.92,97.27 113.02,97.27 C113.12,97.27 113.22,97.27 113.32,97.28 C113.42,97.28 113.52,97.29 113.61,97.29 C113.71,97.29 113.81,97.30 113.91,97.30 C114.01,97.30 114.11,97.29 114.21,97.29 C114.31,97.29 114.40,97.28 114.50,97.27 C114.60,97.26 114.70,97.24 114.80,97.23 C114.90,97.22 115.00,97.20 115.09,97.19 C115.19,97.18 115.29,97.17 115.39,97.16 C115.49,97.15 115.59,97.14 115.69,97.14 C115.79,97.14 115.88,97.13 115.98,97.13 C116.08,97.13 116.18,97.13 116.28,97.14 C116.38,97.14 116.48,97.14 116.57,97.14 C116.67,97.14 116.77,97.14 116.87,97.14 C116.97,97.14 117.07,97.13 117.17,97.13 C117.27,97.12 117.36,97.11 117.46,97.10 C117.56,97.09 117.66,97.08 117.76,97.07 C117.86,97.06 117.96,97.05 118.05,97.04 C118.15,97.03 118.25,97.02 118.35,97.02 C118.45,97.01 118.55,97.01 118.65,97.00 C118.75,97.00 118.84,97.00 118.94,97.00 C119.04,97.00 119.14,97.00 119.24,97.00 C119.34,97.00 119.44,97.00 119.53,97.00 C119.63,97.00 119.73,97.00 119.83,96.99 C119.93,96.99 120.03,96.98 120.13,96.98 C120.23,96.97 120.32,96.96 120.42,96.95 C120.52,96.94 120.62,96.93 120.72,96.93 C120.82,96.92 120.92,96.91 121.01,96.90 C121.11,96.90 121.21,96.89 121.31,96.89 C121.41,96.89 121.51,96.88 121.61,96.88 C121.71,96.88 121.80,96.88 121.90,96.88 C122.00,96.88 122.10,96.88 122.20,96.88 C122.30,96.87 122.40,96.87 122.49,96.87 C122.59,96.87 122.69,96.86 122.79,96.86 C122.89,96.85 122.99,96.85 123.09,96.84 C123.19,96.83 123.28,96.83 123.38,96.82 C123.48,96.81 123.58,96.81 123.68,96.80 C123.78,96.80 123.88,96.79 123.97,96.79 C124.07,96.78 124.17,96.78 124.27,96.77 C124.37,96.77 124.47,96.77 124.57,96.77 C124.67,96.77 124.76,96.77 124.86,96.76 C124.96,96.76 125.06,96.76 125.16,96.76 C125.26,96.76 125.36,96.75 125.45,96.75 C125.55,96.75 125.65,96.74 125.75,96.74 C125.85,96.73 125.95,96.73 126.05,96.72 C126.15,96.72 126.24,96.71 126.34,96.70 C126.44,96.70 126.54,96.69 126.64,96.69 C126.74,96.68 126.84,96.68 126.93,96.68 C127.03,96.67 127.13,96.67 127.23,96.67 C127.33,96.67 127.43,96.66 127.53,96.66 C127.63,96.66 127.72,96.66 127.82,96.66 C127.92,96.66 128.02,96.65 128.12,96.65 C128.22,96.65 128.32,96.64 128.41,96.64 C128.51,96.64 128.61,96.63 128.71,96.63 C128.81,96.62 128.91,96.62 129.01,96.61 C129.11,96.61 129.20,96.60 129.30,96.60 C129.40,96.60 129.50,96.59 129.60,96.59 C129.70,96.59 129.80,96.58 129.89,96.58 C129.99,96.58 130.09,96.57 130.19,96.57 C130.29,96.57 130.39,96.57 130.49,96.57 C130.59,96.56 130.68,96.56 130.78,96.56 C130.88,96.56 130.98,96.56 131.08,96.55 C131.18,96.55 131.28,96.55 131.37,96.54 C131.47,96.54 131.57,96.53 131.67,96.53 C131.77,96.53 131.87,96.52 131.97,96.52 C132.07,96.52 132.16,96.51 132.26,96.51 C132.36,96.50 132.46,96.50 132.56,96.50 C132.66,96.50 132.76,96.49 132.85,96.49 C132.95,96.49 133.05,96.49 133.15,96.49 C133.25,96.48 133.35,96.48 133.45,96.48 C133.55,96.48 133.64,96.48 133.74,96.47 C133.84,96.47 133.94,96.47 134.04,96.46 C134.14,96.46 134.24,96.46 134.33,96.46 C134.43,96.45 134.53,96.45 134.63,96.45 C134.73,96.44 134.83,96.44 134.93,96.44 C135.03,96.43 135.12,96.43 135.22,96.43 C135.32,96.42 135.42,96.42 135.52,96.42 C135.62,96.42 135.72,96.42 135.81,96.41 C135.91,96.41 136.01,96.41 136.11,96.41 C136.21,96.41 136.31,96.40 136.41,96.40 C136.51,96.40 136.60,96.40 136.70,96.39 C136.80,96.39 136.90,96.39 137.00,96.39 C137.10,96.38 137.20,96.38 137.29,96.38 C137.39,96.38 137.49,96.37 137.59,96.37 C137.69,96.37 137.79,96.37 137.89,96.36 C137.99,96.36 138.08,96.36 138.18,96.36 C138.28,96.35 138.38,96.35 138.48,96.35 C138.58,96.35 138.68,96.35 138.77,96.34 C138.87,96.34 138.97,96.34 139.07,96.34 C139.17,96.34 139.27,96.34 139.37,96.33 C139.47,96.33 139.56,96.33 139.66,96.33 C139.76,96.33 139.86,96.32 139.96,96.32 C140.06,96.32 140.16,96.32 140.25,96.31 C140.35,96.31 140.45,96.31 140.55,96.31 C140.65,96.30 140.75,96.30 140.85,96.30 C140.95,96.30 141.04,96.30 141.14,96.29 C141.24,96.29 141.34,96.29 141.44,96.29 C141.54,96.29 141.64,96.29 141.73,96.29 C141.83,96.28 141.93,96.28 142.03,96.28 C142.13,96.28 142.23,96.28 142.33,96.28 C142.43,96.27 142.52,96.27 142.62,96.27 C142.72,96.27 142.82,96.27 142.92,96.26 C143.02,96.26 143.12,96.26 143.21,96.26 C143.31,96.26 143.41,96.26 143.51,96.25 C143.61,96.25 143.71,96.25 143.81,96.25 C143.91,96.25 144.00,96.25 144.10,96.24 C144.20,96.24 144.30,96.24 144.40,96.24 C144.50,96.24 144.60,96.24 144.69,96.24 C144.79,96.23 144.89,96.23 144.99,96.23 C145.09,96.23 145.19,96.23 145.29,96.23 C145.39,96.22 145.48,96.22 145.58,96.22 C145.68,96.22 145.78,96.22 145.88,96.22 C145.98,96.21 146.08,96.21 146.17,96.21 C146.27,96.21 146.37,96.21 146.47,96.21 C146.57,96.20 146.67,96.20 146.77,96.20 C146.87,96.20 146.96,96.20 147.06,96.20 C147.16,96.20 147.26,96.19 147.36,96.19 C147.46,96.19 147.56,96.19 147.65,96.19 C147.75,96.19 147.85,96.19 147.95,96.18 C148.05,96.18 148.15,96.18 148.25,96.18 C148.35,96.18 148.44,96.18 148.54,96.17 C148.64,96.17 148.74,96.17 148.84,96.17 C148.94,96.17 149.04,96.17 149.13,96.17 C149.23,96.16 149.33,96.16 149.43,96.16 C149.53,96.16 149.63,96.16 149.73,96.16 C149.83,96.16 149.92,96.15 150.02,96.15 C150.12,96.15 150.22,96.15 150.32,96.15 C150.42,96.15 150.52,96.15 150.61,96.14 C150.71,96.14 150.81,96.14 150.91,96.14 C151.01,96.14 151.11,96.14 151.21,96.14 C151.31,96.13 151.40,96.13 151.50,96.13 C151.60,96.13 151.70,96.13 151.80,96.13 C151.90,96.13 152.00,96.12 152.09,96.12 C152.19,96.12 152.29,96.12 152.39,96.12 C152.49,96.12 152.59,96.12 152.69,96.11 C152.79,96.11 152.88,96.11 152.98,96.11 C153.08,96.11 153.18,96.11 153.28,96.11 C153.38,96.11 153.48,96.10 153.57,96.10 C153.67,96.10 153.77,96.10 153.87,96.10 C153.97,96.10 154.07,96.10 154.17,96.09 C154.27,96.09 154.36,96.09 154.46,96.09 C154.56,96.09 154.66,96.09 154.76,96.09 C154.86,96.08 154.96,96.08 155.05,96.08 C155.15,96.08 155.25,96.08 155.35,96.08 C155.45,96.08 155.55,96.08 155.65,96.07 C155.75,96.07 155.84,96.07 155.94,96.07 C156.04,96.07 156.14,96.07 156.24,96.07 C156.34,96.07 156.44,96.06 156.53,96.06 C156.63,96.06 156.73,96.06 156.83,96.06 C156.93,96.06 157.03,96.06 157.13,96.06 C157.23,96.05 157.32,96.05 157.42,96.05 C157.52,96.05 157.62,96.05 157.72,96.05 C157.82,96.05 157.92,96.04 158.01,96.04 C158.11,96.04 158.21,96.04 158.31,96.04 C158.41,96.04 158.51,96.04 158.61,96.04 C158.71,96.03 158.80,96.03 158.90,96.03 C159.00,96.03 159.10,96.03 159.20,96.03 C159.30,96.03 159.40,96.03 159.49,96.03 C159.59,96.02 159.69,96.02 159.79,96.02 C159.89,96.02 159.99,96.02 160.09,96.02 C160.19,96.02 160.28,96.02 160.38,96.01 C160.48,96.01 160.58,96.01 160.68,96.01 C160.78,96.01 160.88,96.01 160.97,96.01 C161.07,96.01 161.17,96.00 161.27,96.00 C161.37,96.00 161.47,96.00 161.57,96.00 C161.67,96.00 161.76,96.00 161.86,96.00 C161.96,95.99 162.06,95.99 162.16,95.99 C162.26,95.99 162.36,95.99 162.45,95.99 C162.55,95.99 162.65,95.99 162.75,95.99 C162.85,95.98 162.95,95.98 163.05,95.98 C163.15,95.98 163.24,95.98 163.34,95.98 C163.44,95.98 163.54,95.98 163.64,95.97 C163.74,95.97 163.84,95.97 163.93,95.97 C164.03,95.97 164.13,95.97 164.23,95.97 C164.33,95.97 164.43,95.97 164.53,95.96 C164.63,95.96 164.72,95.96 164.82,95.96 C164.92,95.96 165.02,95.96 165.12,95.96 C165.22,95.96 165.32,95.96 165.41,95.95 C165.51,95.95 165.61,95.95 165.71,95.95 C165.81,95.95 165.91,95.95 166.01,95.95 C166.11,95.95 166.20,95.94 166.30,95.94 C166.40,95.94 166.50,95.94 166.60,95.94 C166.70,95.94 166.80,95.94 166.89,95.94 C166.99,95.94 167.09,95.93 167.19,95.93 C167.29,95.93 167.39,95.93 167.49,95.93 C167.59,95.93 167.68,95.93 167.78,95.93 C167.88,95.93 167.98,95.92 168.08,95.92 C168.18,95.92 168.28,95.92 168.37,95.92 C168.47,95.92 168.57,95.92 168.67,95.92 C168.77,95.92 168.87,95.91 168.97,95.91 C169.07,95.91 169.16,95.91 169.26,95.91 C169.36,95.91 169.46,95.91 169.56,95.91 C169.66,95.91 169.76,95.91 169.85,95.90 C169.95,95.90 170.05,95.90 170.15,95.90 C170.25,95.90 170.35,95.90 170.45,95.90 C170.55,95.90 170.64,95.90 170.74,95.89 C170.84,95.89 170.94,95.89 171.04,95.89 C171.14,95.89 171.24,95.89 171.33,95.89 C171.43,95.89 171.53,95.89 171.63,95.88 C171.73,95.88 171.83,95.88 171.93,95.88 C172.03,95.88 172.12,95.88 172.22,95.88 C172.32,95.88 172.42,95.88 172.52,95.88 C172.62,95.87 172.72,95.87 172.81,95.87 C172.91,95.87 173.01,95.87 173.11,95.87 C173.21,95.87 173.31,95.87 173.41,95.87 C173.51,95.87 173.60,95.87 173.70,95.87 C173.80,95.86 173.90,95.86 174.00,95.86 C174.10,95.86 174.20,95.86 174.29,95.86 C174.39,95.86 174.49,95.86 174.59,95.86 C174.69,95.86 174.79,95.86 174.89,95.86 C174.99,95.86 175.08,95.86 175.18,95.86 C175.28,95.86 175.38,95.86 175.48,95.86 C175.58,95.86 175.68,95.86 175.77,95.86 C175.87,95.86 175.97,95.86 176.07,95.86 C176.17,95.86 176.27,95.86 176.37,95.86 C176.47,95.86 176.56,95.86 176.66,95.86 C176.76,95.86 176.86,95.86 176.96,95.86 C177.06,95.86 177.16,95.86 177.25,95.86 C177.35,95.86 177.45,95.86 177.55,95.86 C177.65,95.86 177.75,95.86 177.85,95.86 C177.95,95.86 178.04,95.86 178.14,95.86 C178.24,95.86 178.34,95.86 178.44,95.86 C178.54,95.86 178.64,95.86 178.73,95.86 C178.83,95.86 178.93,95.86 179.03,95.86 C179.13,95.87 179.23,95.87 179.33,95.87 C179.43,95.87 179.52,95.87 179.62,95.87 C179.72,95.87 179.82,95.87 179.92,95.87 C180.02,95.87 180.12,95.87 180.21,95.87 C180.31,95.87 180.41,95.87 180.51,95.88 C180.61,95.88 180.71,95.88 180.81,95.88 C180.91,95.88 181.00,95.88 181.10,95.88 C181.20,95.88 181.30,95.88 181.40,95.88 C181.50,95.88 181.60,95.89 181.69,95.89 C181.79,95.89 181.89,95.89 181.99,95.89 C182.09,95.89 182.19,95.89 182.29,95.89 C182.39,95.89 182.48,95.90 182.58,95.90 C182.68,95.90 182.78,95.90 182.88,95.90 C182.98,95.90 183.08,95.90 183.17,95.90 C183.27,95.91 183.37,95.91 183.47,95.91 C183.57,95.91 183.67,95.91 183.77,95.91 C183.87,95.91 183.96,95.91 184.06,95.92 C184.16,95.92 184.26,95.92 184.36,95.92 C184.46,95.92 184.56,95.92 184.65,95.92 C184.75,95.93 184.85,95.93 184.95,95.93 C185.05,95.93 185.15,95.93 185.25,95.93 C185.35,95.93 185.44,95.94 185.54,95.94 C185.64,95.94 185.74,95.94 185.84,95.94 C185.94,95.94 186.04,95.95 186.13,95.95 C186.23,95.95 186.33,95.95 186.43,95.95 C186.53,95.95 186.63,95.96 186.73,95.96 C186.83,95.96 186.92,95.96 187.02,95.96 C187.12,95.96 187.22,95.97 187.32,95.97 C187.42,95.97 187.52,95.97 187.61,95.97 C187.71,95.97 187.81,95.98 187.91,95.98 C188.01,95.98 188.11,95.98 188.21,95.98 C188.31,95.98 188.40,95.99 188.50,95.99 C188.60,95.99 188.70,95.99 188.80,95.99 C188.90,95.99 189.00,96.00 189.09,96.00 C189.19,96.00 189.29,96.00 189.39,96.00 C189.49,96.01 189.59,96.01 189.69,96.01 C189.79,96.01 189.88,96.01 189.98,96.01 C190.08,96.02 190.18,96.02 190.28,96.02 C190.38,96.02 190.48,96.02 190.57,96.03 C190.67,96.03 190.77,96.03 190.87,96.03 C190.97,96.03 191.07,96.04 191.17,96.04 C191.27,96.04 191.36,96.05 191.46,96.05 C191.56,96.05 191.66,96.05 191.76,96.06 C191.86,96.06 191.96,96.06 192.05,96.07 C192.15,96.07 192.25,96.07 192.35,96.08 C192.45,96.08 192.55,96.08 192.65,96.09 C192.75,96.09 192.84,96.09 192.94,96.10 C193.04,96.10 193.14,96.10 193.24,96.11 C193.34,96.11 193.44,96.12 193.53,96.12 C193.63,96.12 193.73,96.13 193.83,96.13 C193.93,96.14 194.03,96.14 194.13,96.15 C194.23,96.15 194.32,96.15 194.42,96.16 C194.52,96.16 194.62,96.17 194.72,96.17 C194.82,96.18 194.92,96.18 195.01,96.19 C195.11,96.19 195.21,96.19 195.31,96.20 C195.41,96.20 195.51,96.21 195.61,96.21 C195.71,96.22 195.80,96.22 195.90,96.23 C196.00,96.23 196.10,96.24 196.20,96.24 C196.30,96.25 196.40,96.25 196.49,96.26 C196.59,96.26 196.69,96.27 196.79,96.27 C196.89,96.28 196.99,96.28 197.09,96.29 C197.19,96.29 197.28,96.30 197.38,96.30 C197.48,96.31 197.58,96.31 197.68,96.32 C197.78,96.32 197.88,96.33 197.97,96.33 C198.07,96.34 198.17,96.34 198.27,96.35 C198.37,96.35 198.47,96.36 198.57,96.36 C198.67,96.37 198.76,96.37 198.86,96.38 C198.96,96.38 199.06,96.39 199.16,96.39 C199.26,96.40 199.36,96.40 199.45,96.41 C199.55,96.41 199.65,96.42 199.75,96.42 C199.85,96.43 199.95,96.43 200.05,96.44 C200.15,96.44 200.24,96.45 200.34,96.45 C200.44,96.46 200.54,96.46 200.64,96.47 C200.74,96.47 200.84,96.47 200.93,96.48 C201.03,96.48 201.13,96.49 201.23,96.49 C201.33,96.50 201.43,96.50 201.53,96.51 C201.63,96.51 201.72,96.51 201.82,96.52" fill="none" stroke="#ff2a2a" stroke-width="1.35" stroke-linejoin="round"/>
<text transform="translate(113.7,297.8) scale(0.8,1)" class="th" text-anchor="middle">&#920;</text>
<line x1="103.5" y1="306.5" x2="148" y2="306.5" stroke="#2b2ba6" stroke-width="1.6"/>
<line x1="103.5" y1="313.6" x2="148" y2="313.6" stroke="#ff3030" stroke-width="1.6"/>
<text x="232.9" y="155.1" class="lg" style="font-size:11px">tmp (&#920;)</text>
<line x1="226.2" y1="164.4" x2="301.4" y2="164.4" stroke="#2b2ba6" stroke-width="1.6"/>
<text x="232.9" y="192.1" class="lg" style="font-size:11px">tmpw (&#920;)</text>
<line x1="226.2" y1="201.4" x2="309.6" y2="201.4" stroke="#ff3030" stroke-width="1.6"/>
<line x1="396.6" y1="46.8" x2="396.6" y2="270.7" stroke="#bdbdbd" stroke-width="1.3"/>
<path d="M396.6,41.8 L393.9,47.6 L399.3,47.6 Z" fill="#6e6e6e"/>
<line x1="379.4" y1="270.7" x2="578.8" y2="270.7" stroke="#959595" stroke-width="1.1"/>
<path d="M583.8,270.7 L578.0,268.1 L578.0,273.3 Z" fill="#6e6e6e"/>
<line x1="379.3" y1="268.1" x2="379.3" y2="273.3" stroke="#808080" stroke-width="1"/>
<line x1="396.4" y1="268.1" x2="396.4" y2="273.3" stroke="#808080" stroke-width="1"/>
<line x1="413.5" y1="268.1" x2="413.5" y2="273.3" stroke="#808080" stroke-width="1"/>
<line x1="430.6" y1="268.1" x2="430.6" y2="273.3" stroke="#808080" stroke-width="1"/>
<line x1="447.7" y1="268.1" x2="447.7" y2="273.3" stroke="#808080" stroke-width="1"/>
<line x1="464.8" y1="268.1" x2="464.8" y2="273.3" stroke="#808080" stroke-width="1"/>
<line x1="481.9" y1="268.1" x2="481.9" y2="273.3" stroke="#808080" stroke-width="1"/>
<line x1="499.1" y1="268.1" x2="499.1" y2="273.3" stroke="#808080" stroke-width="1"/>
<line x1="516.2" y1="268.1" x2="516.2" y2="273.3" stroke="#808080" stroke-width="1"/>
<line x1="533.3" y1="268.1" x2="533.3" y2="273.3" stroke="#808080" stroke-width="1"/>
<line x1="550.4" y1="268.1" x2="550.4" y2="273.3" stroke="#808080" stroke-width="1"/>
<line x1="567.5" y1="268.1" x2="567.5" y2="273.3" stroke="#808080" stroke-width="1"/>
<line x1="394.0" y1="61.2" x2="399.2" y2="61.2" stroke="#808080" stroke-width="1"/>
<line x1="394.0" y1="80.2" x2="399.2" y2="80.2" stroke="#808080" stroke-width="1"/>
<line x1="394.0" y1="99.2" x2="399.2" y2="99.2" stroke="#808080" stroke-width="1"/>
<line x1="394.0" y1="118.2" x2="399.2" y2="118.2" stroke="#808080" stroke-width="1"/>
<line x1="394.0" y1="137.2" x2="399.2" y2="137.2" stroke="#808080" stroke-width="1"/>
<line x1="394.0" y1="156.1" x2="399.2" y2="156.1" stroke="#808080" stroke-width="1"/>
<line x1="394.0" y1="175.1" x2="399.2" y2="175.1" stroke="#808080" stroke-width="1"/>
<line x1="394.0" y1="194.1" x2="399.2" y2="194.1" stroke="#808080" stroke-width="1"/>
<line x1="394.0" y1="213.1" x2="399.2" y2="213.1" stroke="#808080" stroke-width="1"/>
<line x1="394.0" y1="232.1" x2="399.2" y2="232.1" stroke="#808080" stroke-width="1"/>
<line x1="394.0" y1="251.1" x2="399.2" y2="251.1" stroke="#808080" stroke-width="1"/>
<text transform="translate(392.9,64.8) scale(1.030,1)" class="tl" text-anchor="end">345</text>
<text transform="translate(392.9,83.8) scale(1.030,1)" class="tl" text-anchor="end">344</text>
<text transform="translate(392.9,102.8) scale(1.030,1)" class="tl" text-anchor="end">343</text>
<text transform="translate(392.9,121.8) scale(1.030,1)" class="tl" text-anchor="end">342</text>
<text transform="translate(392.9,140.8) scale(1.030,1)" class="tl" text-anchor="end">341</text>
<text transform="translate(392.9,159.7) scale(1.030,1)" class="tl" text-anchor="end">340</text>
<text transform="translate(392.9,178.7) scale(1.030,1)" class="tl" text-anchor="end">339</text>
<text transform="translate(392.9,197.7) scale(1.030,1)" class="tl" text-anchor="end">338</text>
<text transform="translate(392.9,216.7) scale(1.030,1)" class="tl" text-anchor="end">337</text>
<text transform="translate(392.9,235.7) scale(1.030,1)" class="tl" text-anchor="end">336</text>
<text transform="translate(392.9,254.7) scale(1.030,1)" class="tl" text-anchor="end">335</text>
<text transform="translate(396.4,284.1) scale(1.030,1)" class="tl" text-anchor="middle">0</text>
<text transform="translate(413.5,284.1) scale(1.030,1)" class="tl" text-anchor="middle">1</text>
<text transform="translate(430.6,284.1) scale(1.030,1)" class="tl" text-anchor="middle">2</text>
<text transform="translate(447.7,284.1) scale(1.030,1)" class="tl" text-anchor="middle">3</text>
<text transform="translate(464.8,284.1) scale(1.030,1)" class="tl" text-anchor="middle">4</text>
<text transform="translate(481.9,284.1) scale(1.030,1)" class="tl" text-anchor="middle">5</text>
<text transform="translate(499.1,284.1) scale(1.030,1)" class="tl" text-anchor="middle">6</text>
<text transform="translate(516.2,284.1) scale(1.030,1)" class="tl" text-anchor="middle">7</text>
<text transform="translate(533.3,284.1) scale(1.030,1)" class="tl" text-anchor="middle">8</text>
<text transform="translate(550.4,284.1) scale(1.030,1)" class="tl" text-anchor="middle">9</text>
<text transform="translate(567.5,284.1) scale(1.030,1)" class="tl" text-anchor="middle">10</text>
<text transform="translate(366.8,38) scale(1.12,1)" class="pl">b</text><text x="376.4" y="38.8" class="pl pp">)</text>
<path d="M396.80,100.30 C397.27,102.07 397.73,105.60 398.20,105.60 C399.40,105.60 400.60,101.91 401.80,98.50 C402.97,95.19 404.13,84.98 405.30,80.90 C406.47,76.82 407.63,73.72 408.80,71.50 C410.00,69.21 411.20,67.15 412.40,66.20 C413.63,65.22 414.87,64.20 416.10,64.20 C417.60,64.20 419.10,65.16 420.60,66.20 C422.17,67.29 423.73,70.85 425.30,73.80 C426.87,76.75 428.43,80.54 430.00,84.40 C431.17,87.27 432.33,91.14 433.50,93.80 C435.07,97.38 436.63,103.00 438.20,103.00 C439.97,103.00 441.73,100.16 443.50,98.50 C445.27,96.84 447.03,92.90 448.80,92.90 C450.00,92.90 451.20,96.39 452.40,97.40 C453.90,98.66 455.40,100.20 456.90,100.20 C458.53,100.20 460.17,97.76 461.80,96.80 C463.37,95.88 464.93,94.40 466.50,94.40 C469.03,94.40 471.57,99.10 474.10,99.10 C477.03,99.10 479.97,95.60 482.90,95.60 C485.47,95.60 488.03,97.90 490.60,97.90 C493.33,97.90 496.07,95.90 498.80,95.90 C501.37,95.90 503.93,97.60 506.50,97.60 C509.03,97.60 511.57,96.20 514.10,96.20 C516.93,96.20 519.77,97.40 522.60,97.40 C525.40,97.40 528.20,95.80 531.00,95.80 C533.57,95.80 536.13,97.40 538.70,97.40 C541.43,97.40 544.17,96.10 546.90,96.10 C549.47,96.10 552.03,97.20 554.60,97.20 C557.37,97.20 560.13,96.10 562.90,96.10 C565.00,96.10 567.10,96.57 569.20,96.80" fill="none" stroke="#2b2ba6" stroke-width="1.8" stroke-linejoin="round"/>
<line x1="397.8" y1="255" x2="397.8" y2="141.5" stroke="#ff4a4a" stroke-width="1.8"/>
<path d="M397.70,141.50 C397.97,138.47 398.23,134.71 398.50,132.40 C399.07,127.49 399.63,124.38 400.20,121.10 C400.87,117.24 401.53,114.00 402.20,110.90 C402.93,107.49 403.67,101.50 404.40,101.50 C404.90,101.50 405.40,107.11 405.90,112.00 C406.33,116.23 406.77,126.89 407.20,132.40 C407.70,138.76 408.20,144.96 408.70,148.30 C409.47,153.43 410.23,157.46 411.00,159.10 C412.13,161.53 413.27,162.51 414.40,163.60 C416.47,165.59 418.53,166.07 420.60,168.10 C422.50,169.96 424.40,173.33 426.30,176.60 C428.77,180.84 431.23,191.90 433.70,191.90 C434.63,191.90 435.57,171.82 436.50,161.90 C437.43,151.98 438.37,139.77 439.30,132.40 C440.07,126.35 440.83,121.45 441.60,117.70 C442.93,111.17 444.27,102.40 445.60,102.40 C446.73,102.40 447.87,116.61 449.00,124.50 C450.13,132.39 451.27,150.00 452.40,150.00 C453.53,150.00 454.67,135.88 455.80,129.00 C457.00,121.71 458.20,110.27 459.40,107.50 C460.67,104.58 461.93,102.10 463.20,102.10 C465.53,102.10 467.87,130.30 470.20,130.30 C473.47,130.30 476.73,101.50 480.00,101.50 C482.23,101.50 484.47,120.30 486.70,120.30 C489.77,120.30 492.83,100.90 495.90,100.90 C498.23,100.90 500.57,113.50 502.90,113.50 C505.67,113.50 508.43,100.90 511.20,100.90 C513.83,100.90 516.47,109.70 519.10,109.70 C521.87,109.70 524.63,100.40 527.40,100.40 C529.97,100.40 532.53,106.80 535.10,106.80 C537.67,106.80 540.23,99.90 542.80,99.90 C545.37,99.90 547.93,104.40 550.50,104.40 C553.27,104.40 556.03,99.40 558.80,99.40 C561.20,99.40 563.60,103.30 566.00,103.30 C567.10,103.30 568.20,102.43 569.30,102.00" fill="none" stroke="#ff2a2a" stroke-width="1.6" stroke-linejoin="round"/>
<text transform="translate(465.6,297.8) scale(0.8,1)" class="th" text-anchor="middle">&#920;</text>
<line x1="453.8" y1="306.6" x2="505.5" y2="306.6" stroke="#2b2ba6" stroke-width="1.6"/>
<line x1="453.8" y1="313.9" x2="505.5" y2="313.9" stroke="#ff3030" stroke-width="1.6"/>
<text x="603.2" y="155.1" class="lg" style="font-size:12.8px">tmp (&#920;)</text>
<line x1="595.2" y1="164.7" x2="653.8" y2="164.7" stroke="#2b2ba6" stroke-width="1.6"/>
<text x="603.2" y="192.2" class="lg" style="font-size:12.8px">tmpw (&#920;)</text>
<line x1="595.2" y1="201.7" x2="653.8" y2="201.7" stroke="#ff3030" stroke-width="1.6"/>
<line x1="60.9" y1="433.0" x2="60.9" y2="656.8" stroke="#bdbdbd" stroke-width="1.3"/>
<path d="M60.9,428.0 L58.2,433.8 L63.6,433.8 Z" fill="#6e6e6e"/>
<line x1="44.0" y1="599.4" x2="241.5" y2="599.4" stroke="#959595" stroke-width="1.1"/>
<path d="M246.5,599.4 L240.7,596.8 L240.7,602.0 Z" fill="#6e6e6e"/>
<line x1="44.0" y1="596.8" x2="44.0" y2="602.0" stroke="#808080" stroke-width="1"/>
<line x1="60.9" y1="596.8" x2="60.9" y2="602.0" stroke="#808080" stroke-width="1"/>
<line x1="77.8" y1="596.8" x2="77.8" y2="602.0" stroke="#808080" stroke-width="1"/>
<line x1="94.8" y1="596.8" x2="94.8" y2="602.0" stroke="#808080" stroke-width="1"/>
<line x1="111.8" y1="596.8" x2="111.8" y2="602.0" stroke="#808080" stroke-width="1"/>
<line x1="128.7" y1="596.8" x2="128.7" y2="602.0" stroke="#808080" stroke-width="1"/>
<line x1="145.7" y1="596.8" x2="145.7" y2="602.0" stroke="#808080" stroke-width="1"/>
<line x1="162.6" y1="596.8" x2="162.6" y2="602.0" stroke="#808080" stroke-width="1"/>
<line x1="179.5" y1="596.8" x2="179.5" y2="602.0" stroke="#808080" stroke-width="1"/>
<line x1="196.5" y1="596.8" x2="196.5" y2="602.0" stroke="#808080" stroke-width="1"/>
<line x1="213.4" y1="596.8" x2="213.4" y2="602.0" stroke="#808080" stroke-width="1"/>
<line x1="230.4" y1="596.8" x2="230.4" y2="602.0" stroke="#808080" stroke-width="1"/>
<line x1="58.3" y1="447.0" x2="63.5" y2="447.0" stroke="#808080" stroke-width="1"/>
<line x1="58.3" y1="466.0" x2="63.5" y2="466.0" stroke="#808080" stroke-width="1"/>
<line x1="58.3" y1="485.1" x2="63.5" y2="485.1" stroke="#808080" stroke-width="1"/>
<line x1="58.3" y1="504.1" x2="63.5" y2="504.1" stroke="#808080" stroke-width="1"/>
<line x1="58.3" y1="523.2" x2="63.5" y2="523.2" stroke="#808080" stroke-width="1"/>
<line x1="58.3" y1="542.2" x2="63.5" y2="542.2" stroke="#808080" stroke-width="1"/>
<line x1="58.3" y1="561.3" x2="63.5" y2="561.3" stroke="#808080" stroke-width="1"/>
<line x1="58.3" y1="580.4" x2="63.5" y2="580.4" stroke="#808080" stroke-width="1"/>
<line x1="58.3" y1="599.4" x2="63.5" y2="599.4" stroke="#808080" stroke-width="1"/>
<line x1="58.3" y1="618.4" x2="63.5" y2="618.4" stroke="#808080" stroke-width="1"/>
<line x1="58.3" y1="637.5" x2="63.5" y2="637.5" stroke="#808080" stroke-width="1"/>
<line x1="58.3" y1="656.5" x2="63.5" y2="656.5" stroke="#808080" stroke-width="1"/>
<text transform="translate(57.4,450.6) scale(1.080,1)" class="tl" text-anchor="end">4</text>
<text transform="translate(57.4,469.6) scale(1.080,1)" class="tl" text-anchor="end">3.5</text>
<text transform="translate(57.4,488.7) scale(1.080,1)" class="tl" text-anchor="end">3</text>
<text transform="translate(57.4,507.8) scale(1.080,1)" class="tl" text-anchor="end">2.5</text>
<text transform="translate(57.4,526.8) scale(1.080,1)" class="tl" text-anchor="end">2</text>
<text transform="translate(57.4,545.9) scale(1.080,1)" class="tl" text-anchor="end">1.5</text>
<text transform="translate(57.4,564.9) scale(1.080,1)" class="tl" text-anchor="end">1</text>
<text transform="translate(57.4,584.0) scale(1.080,1)" class="tl" text-anchor="end">0.5</text>
<text transform="translate(57.4,603.0) scale(1.080,1)" class="tl" text-anchor="end">0</text>
<text transform="translate(57.4,622.0) scale(1.080,1)" class="tl" text-anchor="end"><tspan>&#8722;</tspan><tspan dx="0.8">0.5</tspan></text>
<text transform="translate(57.4,641.1) scale(1.080,1)" class="tl" text-anchor="end"><tspan>&#8722;</tspan><tspan dx="0.8">1</tspan></text>
<text transform="translate(60.9,612.5) scale(1.080,1)" class="tl" text-anchor="middle">0</text>
<text transform="translate(77.8,612.5) scale(1.080,1)" class="tl" text-anchor="middle">1</text>
<text transform="translate(94.8,612.5) scale(1.080,1)" class="tl" text-anchor="middle">2</text>
<text transform="translate(111.8,612.5) scale(1.080,1)" class="tl" text-anchor="middle">3</text>
<text transform="translate(128.7,612.5) scale(1.080,1)" class="tl" text-anchor="middle">4</text>
<text transform="translate(145.7,612.5) scale(1.080,1)" class="tl" text-anchor="middle">5</text>
<text transform="translate(162.6,612.5) scale(1.080,1)" class="tl" text-anchor="middle">6</text>
<text transform="translate(179.5,612.5) scale(1.080,1)" class="tl" text-anchor="middle">7</text>
<text transform="translate(196.5,612.5) scale(1.080,1)" class="tl" text-anchor="middle">8</text>
<text transform="translate(213.4,612.5) scale(1.080,1)" class="tl" text-anchor="middle">9</text>
<text transform="translate(230.4,612.5) scale(1.080,1)" class="tl" text-anchor="middle">10</text>
<text transform="translate(28.9,424.7) scale(1.12,1)" class="pl">c</text><text x="36.4" y="425.4" class="pl pp">)</text>
<path d="M60.80,600.40 C61.30,605.33 61.80,611.34 62.30,615.20 C62.87,619.58 63.43,625.90 64.00,625.90 C64.63,625.90 65.27,620.62 65.90,616.60 C66.53,612.58 67.17,606.21 67.80,599.40 C68.63,590.44 69.47,575.51 70.30,565.60 C71.27,554.11 72.23,541.41 73.20,535.00 C74.43,526.82 75.67,520.74 76.90,517.50 C78.50,513.29 80.10,509.00 81.70,509.00 C83.23,509.00 84.77,513.28 86.30,517.50 C87.77,521.53 89.23,531.80 90.70,540.80 C92.17,549.80 93.63,562.15 95.10,572.90 C96.30,581.70 97.50,591.62 98.70,599.40 C99.60,605.24 100.50,612.43 101.40,615.20 C102.37,618.17 103.33,621.20 104.30,621.20 C105.37,621.20 106.43,616.95 107.50,613.70 C108.70,610.04 109.90,600.19 111.10,597.70 C112.03,595.76 112.97,593.80 113.90,593.80 C116.57,593.80 119.23,613.20 121.90,613.20 C124.70,613.20 127.50,599.20 130.30,599.20 C133.07,599.20 135.83,610.00 138.60,610.00 C141.40,610.00 144.20,600.80 147.00,600.80 C149.87,600.80 152.73,608.30 155.60,608.30 C158.37,608.30 161.13,601.60 163.90,601.60 C166.53,601.60 169.17,606.80 171.80,606.80 C174.87,606.80 177.93,602.20 181.00,602.20 C183.40,602.20 185.80,606.40 188.20,606.40 C190.97,606.40 193.73,602.50 196.50,602.50 C199.23,602.50 201.97,605.70 204.70,605.70 C207.47,605.70 210.23,602.60 213.00,602.60 C215.73,602.60 218.47,605.00 221.20,605.00 C223.97,605.00 226.73,603.00 229.50,603.00 C230.17,603.00 230.83,603.40 231.50,603.60" fill="none" stroke="#2b2ba6" stroke-width="1.6" stroke-linejoin="round"/>
<text x="274.8" y="559.7" class="lg" style="font-size:13.2px">Err (&#920;)</text>
<line x1="267" y1="569.1" x2="316.8" y2="569.1" stroke="#3a3aae" stroke-width="1.6"/>
<text transform="translate(128,687.2) scale(0.85,1)" class="th" text-anchor="middle">&#920;</text>
<line x1="115.2" y1="695.7" x2="170.1" y2="695.7" stroke="#4848b8" stroke-width="1.6"/>
<line x1="397.9" y1="435.2" x2="397.9" y2="655.8" stroke="#bdbdbd" stroke-width="1.3"/>
<path d="M397.9,430.2 L395.2,436.0 L400.6,436.0 Z" fill="#6e6e6e"/>
<line x1="381.2" y1="619.8" x2="579.4" y2="619.8" stroke="#959595" stroke-width="1.1"/>
<path d="M584.4,619.8 L578.6,617.2 L578.6,622.4 Z" fill="#6e6e6e"/>
<line x1="380.9" y1="617.2" x2="380.9" y2="622.4" stroke="#808080" stroke-width="1"/>
<line x1="397.9" y1="617.2" x2="397.9" y2="622.4" stroke="#808080" stroke-width="1"/>
<line x1="414.9" y1="617.2" x2="414.9" y2="622.4" stroke="#808080" stroke-width="1"/>
<line x1="431.8" y1="617.2" x2="431.8" y2="622.4" stroke="#808080" stroke-width="1"/>
<line x1="448.8" y1="617.2" x2="448.8" y2="622.4" stroke="#808080" stroke-width="1"/>
<line x1="465.7" y1="617.2" x2="465.7" y2="622.4" stroke="#808080" stroke-width="1"/>
<line x1="482.7" y1="617.2" x2="482.7" y2="622.4" stroke="#808080" stroke-width="1"/>
<line x1="499.7" y1="617.2" x2="499.7" y2="622.4" stroke="#808080" stroke-width="1"/>
<line x1="516.6" y1="617.2" x2="516.6" y2="622.4" stroke="#808080" stroke-width="1"/>
<line x1="533.6" y1="617.2" x2="533.6" y2="622.4" stroke="#808080" stroke-width="1"/>
<line x1="550.5" y1="617.2" x2="550.5" y2="622.4" stroke="#808080" stroke-width="1"/>
<line x1="567.5" y1="617.2" x2="567.5" y2="622.4" stroke="#808080" stroke-width="1"/>
<line x1="395.3" y1="448.8" x2="400.5" y2="448.8" stroke="#808080" stroke-width="1"/>
<line x1="395.3" y1="465.9" x2="400.5" y2="465.9" stroke="#808080" stroke-width="1"/>
<line x1="395.3" y1="483.0" x2="400.5" y2="483.0" stroke="#808080" stroke-width="1"/>
<line x1="395.3" y1="500.1" x2="400.5" y2="500.1" stroke="#808080" stroke-width="1"/>
<line x1="395.3" y1="517.2" x2="400.5" y2="517.2" stroke="#808080" stroke-width="1"/>
<line x1="395.3" y1="534.3" x2="400.5" y2="534.3" stroke="#808080" stroke-width="1"/>
<line x1="395.3" y1="551.4" x2="400.5" y2="551.4" stroke="#808080" stroke-width="1"/>
<line x1="395.3" y1="568.5" x2="400.5" y2="568.5" stroke="#808080" stroke-width="1"/>
<line x1="395.3" y1="585.6" x2="400.5" y2="585.6" stroke="#808080" stroke-width="1"/>
<line x1="395.3" y1="602.7" x2="400.5" y2="602.7" stroke="#808080" stroke-width="1"/>
<line x1="395.3" y1="619.8" x2="400.5" y2="619.8" stroke="#808080" stroke-width="1"/>
<line x1="395.3" y1="636.9" x2="400.5" y2="636.9" stroke="#808080" stroke-width="1"/>
<line x1="395.3" y1="654.0" x2="400.5" y2="654.0" stroke="#808080" stroke-width="1"/>
<text transform="translate(394.5,452.4) scale(1.080,1)" class="tl" text-anchor="end">100</text>
<text transform="translate(394.5,469.5) scale(1.080,1)" class="tl" text-anchor="end">90</text>
<text transform="translate(394.5,486.6) scale(1.080,1)" class="tl" text-anchor="end">80</text>
<text transform="translate(394.5,503.7) scale(1.080,1)" class="tl" text-anchor="end">70</text>
<text transform="translate(394.5,520.8) scale(1.080,1)" class="tl" text-anchor="end">60</text>
<text transform="translate(394.5,537.9) scale(1.080,1)" class="tl" text-anchor="end">50</text>
<text transform="translate(394.5,555.0) scale(1.080,1)" class="tl" text-anchor="end">40</text>
<text transform="translate(394.5,572.1) scale(1.080,1)" class="tl" text-anchor="end">30</text>
<text transform="translate(394.5,589.2) scale(1.080,1)" class="tl" text-anchor="end">20</text>
<text transform="translate(394.5,606.3) scale(1.080,1)" class="tl" text-anchor="end">10</text>
<text transform="translate(394.5,623.4) scale(1.080,1)" class="tl" text-anchor="end">0</text>
<text transform="translate(394.5,640.5) scale(1.080,1)" class="tl" text-anchor="end"><tspan>&#8722;</tspan><tspan dx="0.8">10</tspan></text>
<text transform="translate(397.9,633.0) scale(1.080,1)" class="tl" text-anchor="middle">0</text>
<text transform="translate(414.9,633.0) scale(1.080,1)" class="tl" text-anchor="middle">1</text>
<text transform="translate(431.8,633.0) scale(1.080,1)" class="tl" text-anchor="middle">2</text>
<text transform="translate(448.8,633.0) scale(1.080,1)" class="tl" text-anchor="middle">3</text>
<text transform="translate(465.7,633.0) scale(1.080,1)" class="tl" text-anchor="middle">4</text>
<text transform="translate(482.7,633.0) scale(1.080,1)" class="tl" text-anchor="middle">5</text>
<text transform="translate(499.7,633.0) scale(1.080,1)" class="tl" text-anchor="middle">6</text>
<text transform="translate(516.6,633.0) scale(1.080,1)" class="tl" text-anchor="middle">7</text>
<text transform="translate(533.6,633.0) scale(1.080,1)" class="tl" text-anchor="middle">8</text>
<text transform="translate(550.5,633.0) scale(1.080,1)" class="tl" text-anchor="middle">9</text>
<text transform="translate(567.5,633.0) scale(1.080,1)" class="tl" text-anchor="middle">10</text>
<text transform="translate(366.2,424.7) scale(1.25,1)" class="pl">d</text><text x="376.6" y="425.4" class="pl pp">)</text>
<path d="M397.90,619.80 L405.00,619.80 L406.20,482.00 L408.30,449.00 L433.90,449.00 L435.80,466.00 L436.80,593.50 L439.00,619.80 L445.60,619.80 L445.82,612.51 L446.03,605.06 L446.25,597.48 L446.47,589.83 L446.68,582.17 L446.90,574.52 L447.12,566.96 L447.33,559.52 L447.55,552.25 L447.77,545.20 L447.98,538.42 L448.20,531.95 L448.42,525.83 L448.63,520.10 L448.85,514.80 L449.07,509.96 L449.28,505.61 L449.50,501.78 L449.72,498.50 L449.93,495.79 L450.15,493.66 L450.37,492.13 L450.58,491.21 L450.80,490.90 L451.08,491.21 L451.37,492.13 L451.65,493.66 L451.93,495.79 L452.22,498.50 L452.50,501.78 L452.78,505.61 L453.07,509.96 L453.35,514.80 L453.63,520.10 L453.92,525.83 L454.20,531.95 L454.48,538.42 L454.77,545.20 L455.05,552.25 L455.33,559.52 L455.62,566.96 L455.90,574.52 L456.18,582.17 L456.47,589.83 L456.75,597.48 L457.03,605.06 L457.32,612.51 L457.60,619.80 L462.30,619.80 L462.56,615.27 L462.82,610.64 L463.07,605.93 L463.33,601.18 L463.59,596.41 L463.85,591.66 L464.11,586.96 L464.37,582.34 L464.62,577.82 L464.88,573.44 L465.14,569.23 L465.40,565.21 L465.66,561.40 L465.92,557.84 L466.18,554.55 L466.43,551.54 L466.69,548.84 L466.95,546.46 L467.21,544.42 L467.47,542.74 L467.73,541.42 L467.98,540.46 L468.24,539.89 L468.50,539.70 L468.76,539.89 L469.02,540.46 L469.27,541.42 L469.53,542.74 L469.79,544.42 L470.05,546.46 L470.31,548.84 L470.57,551.54 L470.82,554.55 L471.08,557.84 L471.34,561.40 L471.60,565.21 L471.86,569.23 L472.12,573.44 L472.38,577.82 L472.63,582.34 L472.89,586.96 L473.15,591.66 L473.41,596.41 L473.67,601.18 L473.93,605.93 L474.18,610.64 L474.44,615.27 L474.70,619.80 L479.00,619.80 L479.24,616.63 L479.48,613.38 L479.71,610.09 L479.95,606.76 L480.19,603.42 L480.43,600.09 L480.66,596.80 L480.90,593.56 L481.14,590.40 L481.38,587.33 L481.61,584.38 L481.85,581.57 L482.09,578.90 L482.32,576.41 L482.56,574.10 L482.80,571.99 L483.04,570.10 L483.27,568.44 L483.51,567.01 L483.75,565.83 L483.99,564.90 L484.22,564.24 L484.46,563.83 L484.70,563.70 L484.96,563.83 L485.22,564.24 L485.47,564.90 L485.73,565.83 L485.99,567.01 L486.25,568.44 L486.51,570.10 L486.77,571.99 L487.02,574.10 L487.28,576.41 L487.54,578.90 L487.80,581.57 L488.06,584.38 L488.32,587.33 L488.57,590.40 L488.83,593.56 L489.09,596.80 L489.35,600.09 L489.61,603.42 L489.87,606.76 L490.12,610.09 L490.38,613.38 L490.64,616.63 L490.90,619.80 L494.00,619.80 L494.30,617.48 L494.60,615.10 L494.90,612.68 L495.20,610.25 L495.50,607.80 L495.80,605.36 L496.10,602.95 L496.40,600.58 L496.70,598.26 L497.00,596.01 L497.30,593.85 L497.60,591.79 L497.90,589.84 L498.20,588.01 L498.50,586.32 L498.80,584.78 L499.10,583.39 L499.40,582.17 L499.70,581.12 L500.00,580.26 L500.30,579.58 L500.60,579.09 L500.90,578.80 L501.20,578.70 L501.52,578.87 L501.83,579.39 L502.15,580.23 L502.47,581.40 L502.78,582.86 L503.10,584.60 L503.42,586.58 L503.73,588.78 L504.05,591.14 L504.37,593.63 L504.68,596.22 L505.00,598.85 L505.32,601.48 L505.63,604.07 L505.95,606.56 L506.27,608.93 L506.58,611.12 L506.90,613.10 L507.22,614.84 L507.53,616.30 L507.85,617.47 L508.17,618.31 L508.48,618.83 L508.80,619.00 L509.14,618.87 L509.48,618.49 L509.82,617.85 L510.17,616.98 L510.51,615.88 L510.85,614.58 L511.19,613.09 L511.53,611.45 L511.88,609.68 L512.22,607.81 L512.56,605.87 L512.90,603.90 L513.24,601.93 L513.58,599.99 L513.92,598.12 L514.27,596.35 L514.61,594.71 L514.95,593.22 L515.29,591.92 L515.63,590.82 L515.98,589.95 L516.32,589.31 L516.66,588.93 L517.00,588.80 L517.31,588.93 L517.62,589.31 L517.92,589.95 L518.23,590.82 L518.54,591.92 L518.85,593.22 L519.16,594.71 L519.47,596.35 L519.77,598.12 L520.08,599.99 L520.39,601.93 L520.70,603.90 L521.01,605.87 L521.32,607.81 L521.62,609.68 L521.93,611.45 L522.24,613.09 L522.55,614.58 L522.86,615.88 L523.17,616.98 L523.48,617.85 L523.78,618.49 L524.09,618.87 L524.40,619.00 L524.74,618.90 L525.07,618.60 L525.41,618.11 L525.75,617.43 L526.09,616.58 L526.42,615.57 L526.76,614.42 L527.10,613.15 L527.44,611.78 L527.77,610.33 L528.11,608.83 L528.45,607.30 L528.79,605.77 L529.12,604.27 L529.46,602.82 L529.80,601.45 L530.14,600.18 L530.48,599.03 L530.81,598.02 L531.15,597.17 L531.49,596.49 L531.83,596.00 L532.16,595.70 L532.50,595.60 L532.83,595.70 L533.15,596.00 L533.48,596.49 L533.80,597.17 L534.12,598.02 L534.45,599.03 L534.77,600.18 L535.10,601.45 L535.42,602.82 L535.75,604.27 L536.07,605.77 L536.40,607.30 L536.73,608.83 L537.05,610.33 L537.38,611.78 L537.70,613.15 L538.02,614.42 L538.35,615.57 L538.67,616.58 L539.00,617.43 L539.32,618.11 L539.65,618.60 L539.97,618.90 L540.30,619.00 L540.64,618.92 L540.98,618.70 L541.32,618.32 L541.67,617.80 L542.01,617.15 L542.35,616.38 L542.69,615.50 L543.03,614.52 L543.38,613.48 L543.72,612.37 L544.06,611.22 L544.40,610.05 L544.74,608.88 L545.08,607.73 L545.42,606.62 L545.77,605.58 L546.11,604.60 L546.45,603.72 L546.79,602.95 L547.13,602.30 L547.48,601.78 L547.82,601.40 L548.16,601.18 L548.50,601.10 L548.80,601.18 L549.10,601.40 L549.40,601.78 L549.70,602.30 L550.00,602.95 L550.30,603.72 L550.60,604.60 L550.90,605.58 L551.20,606.62 L551.50,607.73 L551.80,608.88 L552.10,610.05 L552.40,611.22 L552.70,612.37 L553.00,613.48 L553.30,614.52 L553.60,615.50 L553.90,616.38 L554.20,617.15 L554.50,617.80 L554.80,618.32 L555.10,618.70 L555.40,618.92 L555.70,619.00 L556.05,618.94 L556.39,618.77 L556.74,618.49 L557.08,618.10 L557.43,617.61 L557.78,617.02 L558.12,616.36 L558.47,615.62 L558.81,614.83 L559.16,614.00 L559.50,613.13 L559.85,612.25 L560.20,611.37 L560.54,610.50 L560.89,609.67 L561.23,608.88 L561.58,608.14 L561.92,607.48 L562.27,606.89 L562.62,606.40 L562.96,606.01 L563.31,605.73 L563.65,605.56 L564.00,605.50 L564.40,605.56 L564.79,605.73 L565.19,606.01 L565.58,606.40 L565.98,606.89 L566.38,607.48 L566.77,608.14 L567.17,608.88 L567.56,609.67 L567.96,610.50 L568.35,611.37 L568.75,612.25 L569.15,613.13 L569.50,614.40" fill="none" stroke="#2b2ba6" stroke-width="1.5" stroke-linejoin="round"/>
<text x="612.8" y="560.3" class="lg" style="font-size:12.8px">Co (&#920;)</text>
<line x1="605.5" y1="569.5" x2="654.1" y2="569.5" stroke="#2222a8" stroke-width="1.6"/>
<text transform="translate(465.4,685.9) scale(0.85,1)" class="th" text-anchor="middle">&#920;</text>
<line x1="452.8" y1="694.4" x2="507.8" y2="694.4" stroke="#4848b8" stroke-width="1.6"/>
</svg>
<div class="cap" style="left:22.81px;top:761.1px;transform:scaleX(1.0888)"><b>Figure 26</b>:   </div>
<div class="cap" style="left:125.70px;top:761.1px;transform:scaleX(1.0909)">The non-adiabatic controlled SBR (PI).  </div>
<div class="cap" style="left:452.35px;top:761.1px;transform:scaleX(1.1504)">From top left to</div>
<div class="cap" style="left:22.74px;top:788.9px;transform:scaleX(1.1591)">bottom-right: a) The temperature </div>
<div class="cap" style="left:311.45px;top:788.9px;transform:scaleX(1.1483)">of the reacting </div>
<div class="cap" style="left:439.47px;top:788.9px;transform:scaleX(1.1316)">media and that of the</div>
<div class="cap" style="left:22.76px;top:815.3px;transform:scaleX(1.1398)">coolant in kelvins as a function of </div>
<div class="cap" style="left:312.50px;top:815.3px;transform:scaleX(1.1281)">the dimensionless time </div>
<div class="cap" style="left:511.82px;top:815.3px;transform:scaleX(1.0775)">&#920; b) The same</div>
<div class="cap" style="left:23.90px;top:841.9px;transform:scaleX(1.1507)">temperatures for the initial </div>
<div class="cap" style="left:254.35px;top:841.9px;transform:scaleX(1.1459)">10 units of dimensionless </div>
<div class="cap" style="left:478.50px;top:841.9px;transform:scaleX(1.0869)">time c) The</div>
<div class="cap" style="left:22.77px;top:868.2px;transform:scaleX(1.1264)">dependence of the error </div>
<div class="cap" style="left:231.37px;top:868.2px;transform:scaleX(1.1263)">(Err) as a function of the </div>
<div class="cap" style="left:440.99px;top:868.2px;transform:scaleX(1.1102)">dimensionless time and</div>
<div class="cap" style="left:22.77px;top:894.9px;transform:scaleX(1.1344)">d) The normalized </div>
<div class="cap" style="left:182.06px;top:894.9px;transform:scaleX(1.1377)">controller output (Co).</div>
</body></html>
